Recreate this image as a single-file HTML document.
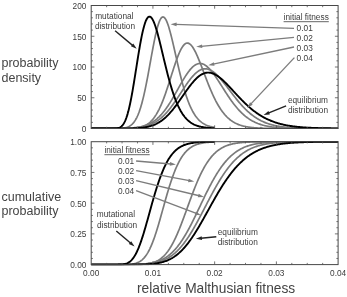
<!DOCTYPE html>
<html><head><meta charset="utf-8"><title>fitness distributions</title>
<style>
html,body{margin:0;padding:0;background:#fff;}
body{width:347px;height:297px;overflow:hidden;font-family:"Liberation Sans",sans-serif;}
svg{display:block;filter:grayscale(1);}
svg text{font-family:"Liberation Sans",sans-serif;}
</style></head><body>
<svg width="347" height="297" viewBox="0 0 347 297">
<rect x="0" y="0" width="347" height="297" fill="#fff"/>
<defs>
<clipPath id="c1"><rect x="90.7" y="4.9" width="247.90000000000003" height="124.2"/></clipPath>
<clipPath id="c2"><rect x="90.7" y="141.1" width="247.90000000000003" height="124.10000000000004"/></clipPath>
</defs>
<g fill="none" stroke-linejoin="round" stroke-linecap="butt" clip-path="url(#c1)">
<path d="M91.20,128.50 L91.82,128.50 L92.43,128.50 L93.05,128.50 L93.67,128.50 L94.29,128.50 L94.90,128.50 L95.52,128.50 L96.14,128.50 L96.76,128.50 L97.37,128.50 L97.99,128.50 L98.61,128.50 L99.22,128.50 L99.84,128.50 L100.46,128.50 L101.08,128.50 L101.69,128.50 L102.31,128.50 L102.93,128.50 L103.55,128.50 L104.16,128.50 L104.78,128.50 L105.40,128.50 L106.01,128.50 L106.63,128.50 L107.25,128.50 L107.87,128.50 L108.48,128.50 L109.10,128.50 L109.72,128.50 L110.33,128.50 L110.95,128.49 L111.57,128.49 L112.19,128.49 L112.80,128.49 L113.42,128.48 L114.04,128.48 L114.66,128.48 L115.27,128.47 L115.89,128.46 L116.51,128.45 L117.12,128.44 L117.74,128.43 L118.36,128.41 L118.98,128.39 L119.59,128.36 L120.21,128.33 L120.83,128.29 L121.45,128.25 L122.06,128.20 L122.68,128.13 L123.30,128.06 L123.91,127.97 L124.53,127.87 L125.15,127.75 L125.77,127.61 L126.38,127.45 L127.00,127.26 L127.62,127.04 L128.24,126.80 L128.85,126.51 L129.47,126.18 L130.09,125.81 L130.70,125.40 L131.32,124.92 L131.94,124.39 L132.56,123.79 L133.17,123.12 L133.79,122.38 L134.41,121.56 L135.02,120.64 L135.64,119.64 L136.26,118.53 L136.88,117.33 L137.49,116.01 L138.11,114.58 L138.73,113.03 L139.35,111.36 L139.96,109.56 L140.58,107.64 L141.20,105.58 L141.81,103.40 L142.43,101.09 L143.05,98.64 L143.67,96.08 L144.28,93.38 L144.90,90.58 L145.52,87.66 L146.14,84.64 L146.75,81.52 L147.37,78.32 L147.99,75.05 L148.60,71.72 L149.22,68.34 L149.84,64.93 L150.46,61.51 L151.07,58.09 L151.69,54.69 L152.31,51.33 L152.93,48.02 L153.54,44.79 L154.16,41.66 L154.78,38.64 L155.39,35.76 L156.01,33.02 L156.63,30.45 L157.25,28.07 L157.86,25.88 L158.48,23.91 L159.10,22.17 L159.71,20.66 L160.33,19.40 L160.95,18.39 L161.57,17.65 L162.18,17.16 L162.80,16.95 L163.42,17.00 L164.04,17.32 L164.65,17.88 L165.27,18.68 L165.89,19.72 L166.50,20.96 L167.12,22.40 L167.74,24.03 L168.36,25.83 L168.97,27.79 L169.59,29.89 L170.21,32.11 L170.83,34.45 L171.44,36.88 L172.06,39.39 L172.68,41.97 L173.29,44.60 L173.91,47.28 L174.53,49.99 L175.15,52.71 L175.76,55.44 L176.38,58.17 L177.00,60.89 L177.62,63.59 L178.23,66.26 L178.85,68.89 L179.47,71.49 L180.08,74.03 L180.70,76.52 L181.32,78.95 L181.94,81.33 L182.55,83.64 L183.17,85.88 L183.79,88.05 L184.40,90.15 L185.02,92.17 L185.64,94.13 L186.26,96.01 L186.87,97.81 L187.49,99.55 L188.11,101.21 L188.73,102.80 L189.34,104.31 L189.96,105.76 L190.58,107.14 L191.19,108.45 L191.81,109.69 L192.43,110.88 L193.05,112.00 L193.66,113.06 L194.28,114.06 L194.90,115.01 L195.52,115.91 L196.13,116.75 L196.75,117.55 L197.37,118.30 L197.98,119.00 L198.60,119.66 L199.22,120.29 L199.84,120.87 L200.45,121.41 L201.07,121.92 L201.69,122.40 L202.31,122.85 L202.92,123.27 L203.54,123.65 L204.16,124.02 L204.77,124.35 L205.39,124.67 L206.01,124.96 L206.63,125.23 L207.24,125.49 L207.86,125.72 L208.48,125.94 L209.09,126.14 L209.71,126.33 L210.33,126.50 L210.95,126.66 L211.56,126.81 L212.18,126.95 L212.80,127.07 L213.42,127.19 L214.03,127.30 L214.65,127.40" stroke="#7a7a7a" stroke-width="1.7"/>
<path d="M91.20,128.50 L91.82,128.50 L92.43,128.50 L93.05,128.50 L93.67,128.50 L94.29,128.50 L94.90,128.50 L95.52,128.50 L96.14,128.50 L96.76,128.50 L97.37,128.50 L97.99,128.50 L98.61,128.50 L99.22,128.50 L99.84,128.50 L100.46,128.50 L101.08,128.50 L101.69,128.50 L102.31,128.50 L102.93,128.50 L103.55,128.50 L104.16,128.50 L104.78,128.50 L105.40,128.50 L106.01,128.50 L106.63,128.50 L107.25,128.50 L107.87,128.50 L108.48,128.50 L109.10,128.50 L109.72,128.50 L110.33,128.50 L110.95,128.50 L111.57,128.50 L112.19,128.50 L112.80,128.50 L113.42,128.50 L114.04,128.50 L114.66,128.50 L115.27,128.49 L115.89,128.49 L116.51,128.49 L117.12,128.49 L117.74,128.49 L118.36,128.49 L118.98,128.49 L119.59,128.48 L120.21,128.48 L120.83,128.48 L121.45,128.47 L122.06,128.47 L122.68,128.47 L123.30,128.46 L123.91,128.45 L124.53,128.45 L125.15,128.44 L125.77,128.43 L126.38,128.42 L127.00,128.41 L127.62,128.39 L128.24,128.38 L128.85,128.36 L129.47,128.34 L130.09,128.31 L130.70,128.29 L131.32,128.26 L131.94,128.22 L132.56,128.19 L133.17,128.14 L133.79,128.10 L134.41,128.05 L135.02,127.99 L135.64,127.92 L136.26,127.85 L136.88,127.77 L137.49,127.68 L138.11,127.58 L138.73,127.47 L139.35,127.35 L139.96,127.21 L140.58,127.06 L141.20,126.90 L141.81,126.72 L142.43,126.53 L143.05,126.32 L143.67,126.08 L144.28,125.83 L144.90,125.55 L145.52,125.25 L146.14,124.92 L146.75,124.57 L147.37,124.19 L147.99,123.78 L148.60,123.33 L149.22,122.85 L149.84,122.34 L150.46,121.79 L151.07,121.19 L151.69,120.56 L152.31,119.89 L152.93,119.17 L153.54,118.41 L154.16,117.60 L154.78,116.74 L155.39,115.83 L156.01,114.87 L156.63,113.86 L157.25,112.80 L157.86,111.68 L158.48,110.51 L159.10,109.28 L159.71,108.00 L160.33,106.67 L160.95,105.29 L161.57,103.85 L162.18,102.35 L162.80,100.81 L163.42,99.22 L164.04,97.58 L164.65,95.89 L165.27,94.17 L165.89,92.40 L166.50,90.59 L167.12,88.76 L167.74,86.89 L168.36,84.99 L168.97,83.08 L169.59,81.14 L170.21,79.20 L170.83,77.25 L171.44,75.29 L172.06,73.34 L172.68,71.40 L173.29,69.48 L173.91,67.58 L174.53,65.70 L175.15,63.86 L175.76,62.06 L176.38,60.31 L177.00,58.61 L177.62,56.97 L178.23,55.40 L178.85,53.90 L179.47,52.47 L180.08,51.13 L180.70,49.88 L181.32,48.72 L181.94,47.65 L182.55,46.69 L183.17,45.84 L183.79,45.10 L184.40,44.46 L185.02,43.95 L185.64,43.55 L186.26,43.27 L186.87,43.12 L187.49,43.08 L188.11,43.16 L188.73,43.37 L189.34,43.68 L189.96,44.11 L190.58,44.64 L191.19,45.28 L191.81,46.01 L192.43,46.84 L193.05,47.75 L193.66,48.75 L194.28,49.83 L194.90,50.98 L195.52,52.19 L196.13,53.47 L196.75,54.80 L197.37,56.18 L197.98,57.61 L198.60,59.09 L199.22,60.59 L199.84,62.13 L200.45,63.70 L201.07,65.28 L201.69,66.89 L202.31,68.50 L202.92,70.13 L203.54,71.76 L204.16,73.39 L204.77,75.02 L205.39,76.64 L206.01,78.25 L206.63,79.86 L207.24,81.44 L207.86,83.02 L208.48,84.57 L209.09,86.10 L209.71,87.60 L210.33,89.08 L210.95,90.54 L211.56,91.96 L212.18,93.36 L212.80,94.73 L213.42,96.06 L214.03,97.36 L214.65,98.63 L215.27,99.86 L215.88,101.07 L216.50,102.23 L217.12,103.37 L217.74,104.46 L218.35,105.53 L218.97,106.56 L219.59,107.55 L220.21,108.51 L220.82,109.44 L221.44,110.33 L222.06,111.20 L222.67,112.02 L223.29,112.82 L223.91,113.59 L224.53,114.33 L225.14,115.03 L225.76,115.71 L226.38,116.36 L227.00,116.99 L227.61,117.58 L228.23,118.15 L228.85,118.70 L229.46,119.22 L230.08,119.71 L230.70,120.19 L231.32,120.64 L231.93,121.07 L232.55,121.48 L233.17,121.87 L233.78,122.24 L234.40,122.59 L235.02,122.93 L235.64,123.25 L236.25,123.55 L236.87,123.83 L237.49,124.11 L238.11,124.36 L238.72,124.61 L239.34,124.84 L239.96,125.06 L240.57,125.26 L241.19,125.46 L241.81,125.64 L242.43,125.82 L243.04,125.98 L243.66,126.14 L244.28,126.28 L244.90,126.42 L245.51,126.55 L246.13,126.68 L246.75,126.79 L247.36,126.90 L247.98,127.00 L248.60,127.10 L249.22,127.19 L249.83,127.27 L250.45,127.35 L251.07,127.43 L251.69,127.50 L252.30,127.56 L252.92,127.63 L253.54,127.68 L254.15,127.74 L254.77,127.79 L255.39,127.84 L256.01,127.88 L256.62,127.92 L257.24,127.96 L257.86,128.00 L258.47,128.03 L259.09,128.07 L259.71,128.10 L260.33,128.12 L260.94,128.15 L261.56,128.17 L262.18,128.20 L262.80,128.22 L263.41,128.24 L264.03,128.26 L264.65,128.27 L265.26,128.29 L265.88,128.31 L266.50,128.32 L267.12,128.33 L267.73,128.34 L268.35,128.36 L268.97,128.37 L269.59,128.38 L270.20,128.38 L270.82,128.39 L271.44,128.40 L272.05,128.41 L272.67,128.42 L273.29,128.42 L273.91,128.43 L274.52,128.43 L275.14,128.44 L275.76,128.44 L276.38,128.45 L276.99,128.45 L277.61,128.45 L278.23,128.46 L278.84,128.46 L279.46,128.46 L280.08,128.47 L280.70,128.47 L281.31,128.47 L281.93,128.47 L282.55,128.48 L283.16,128.48 L283.78,128.48 L284.40,128.48 L285.02,128.48 L285.63,128.48 L286.25,128.49 L286.87,128.49 L287.49,128.49 L288.10,128.49 L288.72,128.49 L289.34,128.49 L289.95,128.49 L290.57,128.49 L291.19,128.49 L291.81,128.49 L292.42,128.49 L293.04,128.49 L293.66,128.49 L294.28,128.49 L294.89,128.50 L295.51,128.50 L296.13,128.50 L296.74,128.50 L297.36,128.50 L297.98,128.50 L298.60,128.50 L299.21,128.50 L299.83,128.50 L300.45,128.50 L301.07,128.50 L301.68,128.50 L302.30,128.50 L302.92,128.50 L303.53,128.50 L304.15,128.50 L304.77,128.50 L305.39,128.50 L306.00,128.50 L306.62,128.50 L307.24,128.50 L307.85,128.50 L308.47,128.50 L309.09,128.50 L309.71,128.50 L310.32,128.50 L310.94,128.50 L311.56,128.50 L312.18,128.50 L312.79,128.50 L313.41,128.50 L314.03,128.50 L314.64,128.50 L315.26,128.50 L315.88,128.50 L316.50,128.50 L317.11,128.50 L317.73,128.50 L318.35,128.50 L318.97,128.50 L319.58,128.50 L320.20,128.50 L320.82,128.50 L321.43,128.50 L322.05,128.50 L322.67,128.50 L323.29,128.50 L323.90,128.50 L324.52,128.50 L325.14,128.50 L325.76,128.50 L326.37,128.50 L326.99,128.50 L327.61,128.50 L328.22,128.50 L328.84,128.50 L329.46,128.50 L330.08,128.50 L330.69,128.50 L331.31,128.50 L331.93,128.50 L332.54,128.50 L333.16,128.50 L333.78,128.50 L334.40,128.50 L335.01,128.50 L335.63,128.50 L336.25,128.50 L336.87,128.50 L337.48,128.50 L338.10,128.50" stroke="#7a7a7a" stroke-width="1.7"/>
<path d="M91.20,128.50 L91.82,128.50 L92.43,128.50 L93.05,128.50 L93.67,128.50 L94.29,128.50 L94.90,128.50 L95.52,128.50 L96.14,128.50 L96.76,128.50 L97.37,128.50 L97.99,128.50 L98.61,128.50 L99.22,128.50 L99.84,128.50 L100.46,128.50 L101.08,128.50 L101.69,128.50 L102.31,128.50 L102.93,128.50 L103.55,128.50 L104.16,128.49 L104.78,128.49 L105.40,128.49 L106.01,128.49 L106.63,128.49 L107.25,128.49 L107.87,128.49 L108.48,128.49 L109.10,128.49 L109.72,128.48 L110.33,128.48 L110.95,128.48 L111.57,128.48 L112.19,128.48 L112.80,128.47 L113.42,128.47 L114.04,128.47 L114.66,128.46 L115.27,128.46 L115.89,128.45 L116.51,128.45 L117.12,128.44 L117.74,128.44 L118.36,128.43 L118.98,128.42 L119.59,128.41 L120.21,128.41 L120.83,128.39 L121.45,128.38 L122.06,128.37 L122.68,128.36 L123.30,128.34 L123.91,128.33 L124.53,128.31 L125.15,128.29 L125.77,128.27 L126.38,128.25 L127.00,128.22 L127.62,128.20 L128.24,128.17 L128.85,128.14 L129.47,128.10 L130.09,128.07 L130.70,128.03 L131.32,127.98 L131.94,127.94 L132.56,127.89 L133.17,127.83 L133.79,127.77 L134.41,127.71 L135.02,127.64 L135.64,127.57 L136.26,127.49 L136.88,127.41 L137.49,127.32 L138.11,127.22 L138.73,127.12 L139.35,127.01 L139.96,126.89 L140.58,126.76 L141.20,126.63 L141.81,126.48 L142.43,126.33 L143.05,126.17 L143.67,125.99 L144.28,125.81 L144.90,125.61 L145.52,125.40 L146.14,125.19 L146.75,124.95 L147.37,124.71 L147.99,124.45 L148.60,124.17 L149.22,123.88 L149.84,123.58 L150.46,123.26 L151.07,122.92 L151.69,122.57 L152.31,122.20 L152.93,121.81 L153.54,121.40 L154.16,120.97 L154.78,120.52 L155.39,120.06 L156.01,119.57 L156.63,119.06 L157.25,118.53 L157.86,117.98 L158.48,117.41 L159.10,116.82 L159.71,116.20 L160.33,115.56 L160.95,114.90 L161.57,114.22 L162.18,113.51 L162.80,112.79 L163.42,112.03 L164.04,111.26 L164.65,110.46 L165.27,109.65 L165.89,108.81 L166.50,107.94 L167.12,107.06 L167.74,106.16 L168.36,105.24 L168.97,104.30 L169.59,103.34 L170.21,102.36 L170.83,101.36 L171.44,100.35 L172.06,99.33 L172.68,98.29 L173.29,97.24 L173.91,96.18 L174.53,95.10 L175.15,94.02 L175.76,92.93 L176.38,91.84 L177.00,90.74 L177.62,89.64 L178.23,88.54 L178.85,87.44 L179.47,86.34 L180.08,85.25 L180.70,84.16 L181.32,83.08 L181.94,82.01 L182.55,80.95 L183.17,79.91 L183.79,78.88 L184.40,77.87 L185.02,76.88 L185.64,75.91 L186.26,74.97 L186.87,74.05 L187.49,73.16 L188.11,72.29 L188.73,71.46 L189.34,70.66 L189.96,69.90 L190.58,69.17 L191.19,68.48 L191.81,67.83 L192.43,67.22 L193.05,66.66 L193.66,66.13 L194.28,65.65 L194.90,65.22 L195.52,64.83 L196.13,64.49 L196.75,64.20 L197.37,63.96 L197.98,63.77 L198.60,63.63 L199.22,63.54 L199.84,63.50 L200.45,63.51 L201.07,63.57 L201.69,63.68 L202.31,63.84 L202.92,64.04 L203.54,64.30 L204.16,64.60 L204.77,64.94 L205.39,65.33 L206.01,65.76 L206.63,66.23 L207.24,66.74 L207.86,67.29 L208.48,67.87 L209.09,68.49 L209.71,69.15 L210.33,69.83 L210.95,70.55 L211.56,71.29 L212.18,72.06 L212.80,72.85 L213.42,73.67 L214.03,74.51 L214.65,75.37 L215.27,76.25 L215.88,77.14 L216.50,78.05 L217.12,78.97 L217.74,79.90 L218.35,80.85 L218.97,81.80 L219.59,82.76 L220.21,83.72 L220.82,84.69 L221.44,85.66 L222.06,86.64 L222.67,87.61 L223.29,88.58 L223.91,89.55 L224.53,90.52 L225.14,91.48 L225.76,92.43 L226.38,93.38 L227.00,94.32 L227.61,95.26 L228.23,96.18 L228.85,97.09 L229.46,98.00 L230.08,98.89 L230.70,99.77 L231.32,100.63 L231.93,101.49 L232.55,102.33 L233.17,103.15 L233.78,103.96 L234.40,104.76 L235.02,105.54 L235.64,106.30 L236.25,107.05 L236.87,107.78 L237.49,108.50 L238.11,109.20 L238.72,109.88 L239.34,110.55 L239.96,111.20 L240.57,111.83 L241.19,112.45 L241.81,113.05 L242.43,113.63 L243.04,114.20 L243.66,114.75 L244.28,115.29 L244.90,115.81 L245.51,116.32 L246.13,116.80 L246.75,117.28 L247.36,117.74 L247.98,118.18 L248.60,118.61 L249.22,119.02 L249.83,119.43 L250.45,119.81 L251.07,120.19 L251.69,120.55 L252.30,120.90 L252.92,121.23 L253.54,121.55 L254.15,121.86 L254.77,122.16 L255.39,122.45 L256.01,122.73 L256.62,122.99 L257.24,123.25 L257.86,123.50 L258.47,123.73 L259.09,123.96 L259.71,124.17 L260.33,124.38 L260.94,124.58 L261.56,124.77 L262.18,124.95 L262.80,125.13 L263.41,125.29 L264.03,125.45 L264.65,125.61 L265.26,125.75 L265.88,125.89 L266.50,126.03 L267.12,126.15 L267.73,126.27 L268.35,126.39 L268.97,126.50 L269.59,126.60 L270.20,126.70 L270.82,126.80 L271.44,126.89 L272.05,126.98 L272.67,127.06 L273.29,127.14 L273.91,127.21 L274.52,127.28 L275.14,127.35 L275.76,127.41 L276.38,127.47 L276.99,127.53 L277.61,127.58 L278.23,127.63 L278.84,127.68 L279.46,127.73 L280.08,127.77 L280.70,127.81 L281.31,127.85 L281.93,127.89 L282.55,127.93 L283.16,127.96 L283.78,127.99 L284.40,128.02 L285.02,128.05 L285.63,128.08 L286.25,128.10 L286.87,128.12 L287.49,128.15 L288.10,128.17 L288.72,128.19 L289.34,128.21 L289.95,128.23 L290.57,128.24 L291.19,128.26 L291.81,128.27 L292.42,128.29 L293.04,128.30 L293.66,128.31 L294.28,128.32 L294.89,128.33 L295.51,128.35 L296.13,128.35 L296.74,128.36 L297.36,128.37 L297.98,128.38 L298.60,128.39 L299.21,128.40 L299.83,128.40 L300.45,128.41 L301.07,128.41 L301.68,128.42 L302.30,128.43 L302.92,128.43 L303.53,128.43 L304.15,128.44 L304.77,128.44 L305.39,128.45 L306.00,128.45 L306.62,128.45 L307.24,128.46 L307.85,128.46 L308.47,128.46 L309.09,128.46 L309.71,128.47 L310.32,128.47 L310.94,128.47 L311.56,128.47 L312.18,128.48 L312.79,128.48 L313.41,128.48 L314.03,128.48 L314.64,128.48 L315.26,128.48 L315.88,128.48 L316.50,128.48 L317.11,128.49 L317.73,128.49 L318.35,128.49 L318.97,128.49 L319.58,128.49 L320.20,128.49 L320.82,128.49 L321.43,128.49 L322.05,128.49 L322.67,128.49 L323.29,128.49 L323.90,128.49 L324.52,128.49 L325.14,128.49 L325.76,128.49 L326.37,128.50 L326.99,128.50 L327.61,128.50 L328.22,128.50 L328.84,128.50 L329.46,128.50 L330.08,128.50 L330.69,128.50 L331.31,128.50 L331.93,128.50 L332.54,128.50 L333.16,128.50 L333.78,128.50 L334.40,128.50 L335.01,128.50 L335.63,128.50 L336.25,128.50 L336.87,128.50 L337.48,128.50 L338.10,128.50" stroke="#7a7a7a" stroke-width="1.7"/>
<path d="M91.20,128.50 L91.82,128.50 L92.43,128.50 L93.05,128.50 L93.67,128.50 L94.29,128.50 L94.90,128.50 L95.52,128.50 L96.14,128.50 L96.76,128.50 L97.37,128.50 L97.99,128.50 L98.61,128.50 L99.22,128.50 L99.84,128.50 L100.46,128.50 L101.08,128.50 L101.69,128.50 L102.31,128.50 L102.93,128.50 L103.55,128.50 L104.16,128.50 L104.78,128.50 L105.40,128.50 L106.01,128.49 L106.63,128.49 L107.25,128.49 L107.87,128.49 L108.48,128.49 L109.10,128.49 L109.72,128.49 L110.33,128.49 L110.95,128.49 L111.57,128.49 L112.19,128.48 L112.80,128.48 L113.42,128.48 L114.04,128.48 L114.66,128.47 L115.27,128.47 L115.89,128.47 L116.51,128.46 L117.12,128.46 L117.74,128.45 L118.36,128.45 L118.98,128.44 L119.59,128.44 L120.21,128.43 L120.83,128.42 L121.45,128.42 L122.06,128.41 L122.68,128.40 L123.30,128.39 L123.91,128.37 L124.53,128.36 L125.15,128.35 L125.77,128.33 L126.38,128.31 L127.00,128.30 L127.62,128.28 L128.24,128.25 L128.85,128.23 L129.47,128.20 L130.09,128.18 L130.70,128.15 L131.32,128.11 L131.94,128.08 L132.56,128.04 L133.17,128.00 L133.79,127.95 L134.41,127.91 L135.02,127.85 L135.64,127.80 L136.26,127.74 L136.88,127.68 L137.49,127.61 L138.11,127.53 L138.73,127.45 L139.35,127.37 L139.96,127.28 L140.58,127.18 L141.20,127.08 L141.81,126.97 L142.43,126.85 L143.05,126.73 L143.67,126.59 L144.28,126.45 L144.90,126.30 L145.52,126.15 L146.14,125.98 L146.75,125.80 L147.37,125.61 L147.99,125.41 L148.60,125.20 L149.22,124.98 L149.84,124.75 L150.46,124.51 L151.07,124.25 L151.69,123.98 L152.31,123.69 L152.93,123.39 L153.54,123.08 L154.16,122.75 L154.78,122.41 L155.39,122.05 L156.01,121.68 L156.63,121.29 L157.25,120.88 L157.86,120.46 L158.48,120.02 L159.10,119.56 L159.71,119.08 L160.33,118.59 L160.95,118.08 L161.57,117.55 L162.18,117.00 L162.80,116.43 L163.42,115.85 L164.04,115.24 L164.65,114.62 L165.27,113.98 L165.89,113.32 L166.50,112.65 L167.12,111.95 L167.74,111.24 L168.36,110.51 L168.97,109.76 L169.59,109.00 L170.21,108.22 L170.83,107.42 L171.44,106.61 L172.06,105.79 L172.68,104.95 L173.29,104.09 L173.91,103.23 L174.53,102.35 L175.15,101.46 L175.76,100.56 L176.38,99.65 L177.00,98.73 L177.62,97.81 L178.23,96.87 L178.85,95.94 L179.47,95.00 L180.08,94.05 L180.70,93.11 L181.32,92.16 L181.94,91.22 L182.55,90.27 L183.17,89.34 L183.79,88.40 L184.40,87.47 L185.02,86.55 L185.64,85.64 L186.26,84.74 L186.87,83.85 L187.49,82.97 L188.11,82.11 L188.73,81.27 L189.34,80.44 L189.96,79.63 L190.58,78.84 L191.19,78.07 L191.81,77.32 L192.43,76.60 L193.05,75.91 L193.66,75.24 L194.28,74.60 L194.90,73.98 L195.52,73.40 L196.13,72.85 L196.75,72.33 L197.37,71.84 L197.98,71.39 L198.60,70.97 L199.22,70.58 L199.84,70.23 L200.45,69.92 L201.07,69.65 L201.69,69.41 L202.31,69.21 L202.92,69.05 L203.54,68.92 L204.16,68.84 L204.77,68.79 L205.39,68.79 L206.01,68.82 L206.63,68.88 L207.24,68.99 L207.86,69.13 L208.48,69.31 L209.09,69.53 L209.71,69.78 L210.33,70.06 L210.95,70.38 L211.56,70.73 L212.18,71.11 L212.80,71.52 L213.42,71.96 L214.03,72.43 L214.65,72.93 L215.27,73.45 L215.88,74.00 L216.50,74.57 L217.12,75.16 L217.74,75.78 L218.35,76.42 L218.97,77.07 L219.59,77.75 L220.21,78.44 L220.82,79.14 L221.44,79.87 L222.06,80.60 L222.67,81.35 L223.29,82.11 L223.91,82.88 L224.53,83.65 L225.14,84.44 L225.76,85.23 L226.38,86.03 L227.00,86.84 L227.61,87.64 L228.23,88.45 L228.85,89.26 L229.46,90.08 L230.08,90.89 L230.70,91.70 L231.32,92.51 L231.93,93.32 L232.55,94.12 L233.17,94.93 L233.78,95.72 L234.40,96.51 L235.02,97.30 L235.64,98.08 L236.25,98.85 L236.87,99.61 L237.49,100.36 L238.11,101.11 L238.72,101.85 L239.34,102.58 L239.96,103.29 L240.57,104.00 L241.19,104.70 L241.81,105.38 L242.43,106.06 L243.04,106.72 L243.66,107.37 L244.28,108.01 L244.90,108.64 L245.51,109.26 L246.13,109.86 L246.75,110.45 L247.36,111.03 L247.98,111.59 L248.60,112.15 L249.22,112.69 L249.83,113.22 L250.45,113.73 L251.07,114.24 L251.69,114.73 L252.30,115.20 L252.92,115.67 L253.54,116.12 L254.15,116.57 L254.77,117.00 L255.39,117.41 L256.01,117.82 L256.62,118.21 L257.24,118.60 L257.86,118.97 L258.47,119.33 L259.09,119.68 L259.71,120.02 L260.33,120.35 L260.94,120.67 L261.56,120.97 L262.18,121.27 L262.80,121.56 L263.41,121.84 L264.03,122.11 L264.65,122.37 L265.26,122.62 L265.88,122.86 L266.50,123.10 L267.12,123.32 L267.73,123.54 L268.35,123.75 L268.97,123.96 L269.59,124.15 L270.20,124.34 L270.82,124.52 L271.44,124.69 L272.05,124.86 L272.67,125.02 L273.29,125.18 L273.91,125.33 L274.52,125.47 L275.14,125.61 L275.76,125.74 L276.38,125.86 L276.99,125.98 L277.61,126.10 L278.23,126.21 L278.84,126.32 L279.46,126.42 L280.08,126.52 L280.70,126.61 L281.31,126.70 L281.93,126.79 L282.55,126.87 L283.16,126.95 L283.78,127.03 L284.40,127.10 L285.02,127.17 L285.63,127.23 L286.25,127.30 L286.87,127.36 L287.49,127.41 L288.10,127.47 L288.72,127.52 L289.34,127.57 L289.95,127.62 L290.57,127.66 L291.19,127.70 L291.81,127.74 L292.42,127.78 L293.04,127.82 L293.66,127.86 L294.28,127.89 L294.89,127.92 L295.51,127.95 L296.13,127.98 L296.74,128.01 L297.36,128.03 L297.98,128.06 L298.60,128.08 L299.21,128.11 L299.83,128.13 L300.45,128.15 L301.07,128.17 L301.68,128.18 L302.30,128.20 L302.92,128.22 L303.53,128.23 L304.15,128.25 L304.77,128.26 L305.39,128.28 L306.00,128.29 L306.62,128.30 L307.24,128.31 L307.85,128.32 L308.47,128.33 L309.09,128.34 L309.71,128.35 L310.32,128.36 L310.94,128.37 L311.56,128.37 L312.18,128.38 L312.79,128.39 L313.41,128.40 L314.03,128.40 L314.64,128.41 L315.26,128.41 L315.88,128.42 L316.50,128.42 L317.11,128.43 L317.73,128.43 L318.35,128.44 L318.97,128.44 L319.58,128.44 L320.20,128.45 L320.82,128.45 L321.43,128.45 L322.05,128.46 L322.67,128.46 L323.29,128.46 L323.90,128.46 L324.52,128.47 L325.14,128.47 L325.76,128.47 L326.37,128.47 L326.99,128.47 L327.61,128.47 L328.22,128.48 L328.84,128.48 L329.46,128.48 L330.08,128.48 L330.69,128.48 L331.31,128.48 L331.93,128.48 L332.54,128.48 L333.16,128.49 L333.78,128.49 L334.40,128.49 L335.01,128.49 L335.63,128.49 L336.25,128.49 L336.87,128.49 L337.48,128.49 L338.10,128.49" stroke="#7a7a7a" stroke-width="1.7"/>
<path d="M91.20,128.50 L91.82,128.50 L92.43,128.50 L93.05,128.50 L93.67,128.50 L94.29,128.50 L94.90,128.50 L95.52,128.50 L96.14,128.50 L96.76,128.50 L97.37,128.50 L97.99,128.50 L98.61,128.50 L99.22,128.50 L99.84,128.50 L100.46,128.50 L101.08,128.50 L101.69,128.50 L102.31,128.50 L102.93,128.50 L103.55,128.50 L104.16,128.50 L104.78,128.50 L105.40,128.50 L106.01,128.50 L106.63,128.50 L107.25,128.50 L107.87,128.50 L108.48,128.50 L109.10,128.50 L109.72,128.50 L110.33,128.50 L110.95,128.50 L111.57,128.50 L112.19,128.50 L112.80,128.49 L113.42,128.49 L114.04,128.48 L114.66,128.46 L115.27,128.43 L115.89,128.39 L116.51,128.34 L117.12,128.26 L117.74,128.15 L118.36,128.01 L118.98,127.82 L119.59,127.57 L120.21,127.26 L120.83,126.86 L121.45,126.38 L122.06,125.80 L122.68,125.09 L123.30,124.26 L123.91,123.28 L124.53,122.15 L125.15,120.86 L125.77,119.38 L126.38,117.73 L127.00,115.89 L127.62,113.85 L128.24,111.61 L128.85,109.18 L129.47,106.56 L130.09,103.74 L130.70,100.75 L131.32,97.59 L131.94,94.27 L132.56,90.80 L133.17,87.21 L133.79,83.51 L134.41,79.72 L135.02,75.87 L135.64,71.97 L136.26,68.05 L136.88,64.14 L137.49,60.25 L138.11,56.41 L138.73,52.64 L139.35,48.97 L139.96,45.42 L140.58,42.01 L141.20,38.75 L141.81,35.68 L142.43,32.79 L143.05,30.12 L143.67,27.66 L144.28,25.43 L144.90,23.44 L145.52,21.70 L146.14,20.22 L146.75,18.98 L147.37,18.00 L147.99,17.28 L148.60,16.81 L149.22,16.59 L149.84,16.61 L150.46,16.87 L151.07,17.36 L151.69,18.07 L152.31,18.99 L152.93,20.10 L153.54,21.40 L154.16,22.87 L154.78,24.50 L155.39,26.28 L156.01,28.19 L156.63,30.23 L157.25,32.37 L157.86,34.61 L158.48,36.93 L159.10,39.32 L159.71,41.78 L160.33,44.28 L160.95,46.82 L161.57,49.38 L162.18,51.96 L162.80,54.55 L163.42,57.15 L164.04,59.73 L164.65,62.29 L165.27,64.83 L165.89,67.35 L166.50,69.82 L167.12,72.26 L167.74,74.65 L168.36,77.00 L168.97,79.29 L169.59,81.52 L170.21,83.70 L170.83,85.81 L171.44,87.86 L172.06,89.85 L172.68,91.78 L173.29,93.64 L173.91,95.43 L174.53,97.16 L175.15,98.82 L175.76,100.41 L176.38,101.95 L177.00,103.41 L177.62,104.82 L178.23,106.16 L178.85,107.44 L179.47,108.66 L180.08,109.83 L180.70,110.94 L181.32,111.99 L181.94,112.99 L182.55,113.94 L183.17,114.84 L183.79,115.70 L184.40,116.50 L185.02,117.27 L185.64,117.99 L186.26,118.67 L186.87,119.31 L187.49,119.92 L188.11,120.49 L188.73,121.02 L189.34,121.53 L189.96,122.00 L190.58,122.45 L191.19,122.86 L191.81,123.25 L192.43,123.62 L193.05,123.96 L193.66,124.29 L194.28,124.59 L194.90,124.87 L195.52,125.13 L196.13,125.37 L196.75,125.60 L197.37,125.82 L197.98,126.01 L198.60,126.20 L199.22,126.37 L199.84,126.53 L200.45,126.68 L201.07,126.82 L201.69,126.95 L202.31,127.06 L202.92,127.18 L203.54,127.28 L204.16,127.37 L204.77,127.46 L205.39,127.54 L206.01,127.62 L206.63,127.69 L207.24,127.75 L207.86,127.81 L208.48,127.87 L209.09,127.92 L209.71,127.97 L210.33,128.01 L210.95,128.05 L211.56,128.09 L212.18,128.12 L212.80,128.15 L213.42,128.18 L214.03,128.21 L214.65,128.23" stroke="#000" stroke-width="1.9"/>
<path d="M91.20,128.50 L91.82,128.50 L92.43,128.50 L93.05,128.50 L93.67,128.50 L94.29,128.50 L94.90,128.50 L95.52,128.50 L96.14,128.50 L96.76,128.50 L97.37,128.50 L97.99,128.50 L98.61,128.50 L99.22,128.50 L99.84,128.50 L100.46,128.50 L101.08,128.50 L101.69,128.50 L102.31,128.50 L102.93,128.50 L103.55,128.50 L104.16,128.50 L104.78,128.50 L105.40,128.50 L106.01,128.50 L106.63,128.50 L107.25,128.50 L107.87,128.50 L108.48,128.50 L109.10,128.50 L109.72,128.50 L110.33,128.50 L110.95,128.50 L111.57,128.50 L112.19,128.50 L112.80,128.50 L113.42,128.50 L114.04,128.50 L114.66,128.50 L115.27,128.50 L115.89,128.50 L116.51,128.49 L117.12,128.49 L117.74,128.49 L118.36,128.49 L118.98,128.49 L119.59,128.49 L120.21,128.49 L120.83,128.49 L121.45,128.48 L122.06,128.48 L122.68,128.48 L123.30,128.47 L123.91,128.47 L124.53,128.47 L125.15,128.46 L125.77,128.46 L126.38,128.45 L127.00,128.44 L127.62,128.44 L128.24,128.43 L128.85,128.42 L129.47,128.41 L130.09,128.40 L130.70,128.38 L131.32,128.37 L131.94,128.35 L132.56,128.34 L133.17,128.32 L133.79,128.30 L134.41,128.27 L135.02,128.25 L135.64,128.22 L136.26,128.19 L136.88,128.16 L137.49,128.12 L138.11,128.08 L138.73,128.04 L139.35,127.99 L139.96,127.94 L140.58,127.88 L141.20,127.82 L141.81,127.76 L142.43,127.68 L143.05,127.61 L143.67,127.52 L144.28,127.44 L144.90,127.34 L145.52,127.24 L146.14,127.13 L146.75,127.01 L147.37,126.88 L147.99,126.75 L148.60,126.60 L149.22,126.45 L149.84,126.28 L150.46,126.11 L151.07,125.92 L151.69,125.72 L152.31,125.51 L152.93,125.29 L153.54,125.06 L154.16,124.81 L154.78,124.55 L155.39,124.28 L156.01,123.99 L156.63,123.68 L157.25,123.36 L157.86,123.03 L158.48,122.68 L159.10,122.31 L159.71,121.93 L160.33,121.53 L160.95,121.11 L161.57,120.67 L162.18,120.22 L162.80,119.75 L163.42,119.26 L164.04,118.75 L164.65,118.23 L165.27,117.68 L165.89,117.12 L166.50,116.54 L167.12,115.94 L167.74,115.33 L168.36,114.69 L168.97,114.04 L169.59,113.37 L170.21,112.68 L170.83,111.98 L171.44,111.26 L172.06,110.53 L172.68,109.78 L173.29,109.01 L173.91,108.23 L174.53,107.44 L175.15,106.63 L175.76,105.81 L176.38,104.98 L177.00,104.14 L177.62,103.29 L178.23,102.43 L178.85,101.56 L179.47,100.69 L180.08,99.80 L180.70,98.92 L181.32,98.03 L181.94,97.14 L182.55,96.25 L183.17,95.35 L183.79,94.46 L184.40,93.57 L185.02,92.68 L185.64,91.80 L186.26,90.93 L186.87,90.06 L187.49,89.20 L188.11,88.35 L188.73,87.51 L189.34,86.68 L189.96,85.86 L190.58,85.06 L191.19,84.28 L191.81,83.51 L192.43,82.77 L193.05,82.04 L193.66,81.33 L194.28,80.64 L194.90,79.98 L195.52,79.33 L196.13,78.72 L196.75,78.13 L197.37,77.56 L197.98,77.02 L198.60,76.52 L199.22,76.03 L199.84,75.58 L200.45,75.16 L201.07,74.77 L201.69,74.41 L202.31,74.08 L202.92,73.79 L203.54,73.52 L204.16,73.29 L204.77,73.10 L205.39,72.93 L206.01,72.80 L206.63,72.70 L207.24,72.63 L207.86,72.60 L208.48,72.60 L209.09,72.63 L209.71,72.70 L210.33,72.79 L210.95,72.92 L211.56,73.08 L212.18,73.26 L212.80,73.48 L213.42,73.72 L214.03,73.99 L214.65,74.28 L215.27,74.60 L215.88,74.95 L216.50,75.31 L217.12,75.70 L217.74,76.12 L218.35,76.55 L218.97,77.00 L219.59,77.47 L220.21,77.96 L220.82,78.47 L221.44,78.99 L222.06,79.53 L222.67,80.08 L223.29,80.65 L223.91,81.23 L224.53,81.82 L225.14,82.42 L225.76,83.03 L226.38,83.65 L227.00,84.28 L227.61,84.91 L228.23,85.56 L228.85,86.21 L229.46,86.86 L230.08,87.52 L230.70,88.18 L231.32,88.85 L231.93,89.51 L232.55,90.18 L233.17,90.85 L233.78,91.52 L234.40,92.20 L235.02,92.87 L235.64,93.53 L236.25,94.20 L236.87,94.87 L237.49,95.53 L238.11,96.19 L238.72,96.84 L239.34,97.49 L239.96,98.14 L240.57,98.78 L241.19,99.42 L241.81,100.05 L242.43,100.67 L243.04,101.29 L243.66,101.91 L244.28,102.51 L244.90,103.11 L245.51,103.70 L246.13,104.28 L246.75,104.86 L247.36,105.43 L247.98,105.99 L248.60,106.54 L249.22,107.09 L249.83,107.62 L250.45,108.15 L251.07,108.67 L251.69,109.18 L252.30,109.68 L252.92,110.17 L253.54,110.66 L254.15,111.13 L254.77,111.60 L255.39,112.05 L256.01,112.50 L256.62,112.94 L257.24,113.37 L257.86,113.80 L258.47,114.21 L259.09,114.61 L259.71,115.01 L260.33,115.40 L260.94,115.78 L261.56,116.15 L262.18,116.51 L262.80,116.86 L263.41,117.21 L264.03,117.54 L264.65,117.87 L265.26,118.20 L265.88,118.51 L266.50,118.81 L267.12,119.11 L267.73,119.40 L268.35,119.69 L268.97,119.96 L269.59,120.23 L270.20,120.49 L270.82,120.75 L271.44,121.00 L272.05,121.24 L272.67,121.47 L273.29,121.70 L273.91,121.92 L274.52,122.14 L275.14,122.35 L275.76,122.55 L276.38,122.75 L276.99,122.94 L277.61,123.13 L278.23,123.31 L278.84,123.49 L279.46,123.66 L280.08,123.82 L280.70,123.98 L281.31,124.14 L281.93,124.29 L282.55,124.44 L283.16,124.58 L283.78,124.72 L284.40,124.85 L285.02,124.98 L285.63,125.10 L286.25,125.23 L286.87,125.34 L287.49,125.46 L288.10,125.57 L288.72,125.67 L289.34,125.77 L289.95,125.87 L290.57,125.97 L291.19,126.06 L291.81,126.15 L292.42,126.24 L293.04,126.32 L293.66,126.40 L294.28,126.48 L294.89,126.56 L295.51,126.63 L296.13,126.70 L296.74,126.77 L297.36,126.83 L297.98,126.90 L298.60,126.96 L299.21,127.02 L299.83,127.07 L300.45,127.13 L301.07,127.18 L301.68,127.23 L302.30,127.28 L302.92,127.33 L303.53,127.38 L304.15,127.42 L304.77,127.46 L305.39,127.50 L306.00,127.54 L306.62,127.58 L307.24,127.62 L307.85,127.65 L308.47,127.69 L309.09,127.72 L309.71,127.75 L310.32,127.78 L310.94,127.81 L311.56,127.84 L312.18,127.86 L312.79,127.89 L313.41,127.91 L314.03,127.94 L314.64,127.96 L315.26,127.98 L315.88,128.00 L316.50,128.03 L317.11,128.04 L317.73,128.06 L318.35,128.08 L318.97,128.10 L319.58,128.12 L320.20,128.13 L320.82,128.15 L321.43,128.16 L322.05,128.18 L322.67,128.19 L323.29,128.20 L323.90,128.22 L324.52,128.23 L325.14,128.24 L325.76,128.25 L326.37,128.26 L326.99,128.27 L327.61,128.28 L328.22,128.29 L328.84,128.30 L329.46,128.31 L330.08,128.32 L330.69,128.32 L331.31,128.33 L331.93,128.34 L332.54,128.35 L333.16,128.35 L333.78,128.36 L334.40,128.37 L335.01,128.37 L335.63,128.38 L336.25,128.38 L336.87,128.39 L337.48,128.39 L338.10,128.40" stroke="#000" stroke-width="1.9"/>
</g>
<g fill="none" stroke-linejoin="round" stroke-linecap="butt" clip-path="url(#c2)">
<path d="M91.20,264.60 L91.82,264.60 L92.43,264.60 L93.05,264.60 L93.67,264.60 L94.29,264.60 L94.90,264.60 L95.52,264.60 L96.14,264.60 L96.76,264.60 L97.37,264.60 L97.99,264.60 L98.61,264.60 L99.22,264.60 L99.84,264.60 L100.46,264.60 L101.08,264.60 L101.69,264.60 L102.31,264.60 L102.93,264.60 L103.55,264.60 L104.16,264.60 L104.78,264.60 L105.40,264.60 L106.01,264.60 L106.63,264.60 L107.25,264.60 L107.87,264.60 L108.48,264.60 L109.10,264.60 L109.72,264.60 L110.33,264.60 L110.95,264.60 L111.57,264.60 L112.19,264.60 L112.80,264.60 L113.42,264.60 L114.04,264.60 L114.66,264.60 L115.27,264.60 L115.89,264.60 L116.51,264.60 L117.12,264.59 L117.74,264.59 L118.36,264.59 L118.98,264.59 L119.59,264.59 L120.21,264.58 L120.83,264.58 L121.45,264.58 L122.06,264.57 L122.68,264.56 L123.30,264.55 L123.91,264.54 L124.53,264.53 L125.15,264.52 L125.77,264.50 L126.38,264.48 L127.00,264.46 L127.62,264.43 L128.24,264.40 L128.85,264.36 L129.47,264.32 L130.09,264.27 L130.70,264.21 L131.32,264.14 L131.94,264.06 L132.56,263.97 L133.17,263.87 L133.79,263.75 L134.41,263.62 L135.02,263.47 L135.64,263.30 L136.26,263.11 L136.88,262.90 L137.49,262.66 L138.11,262.39 L138.73,262.09 L139.35,261.76 L139.96,261.40 L140.58,261.00 L141.20,260.55 L141.81,260.07 L142.43,259.54 L143.05,258.96 L143.67,258.33 L144.28,257.65 L144.90,256.91 L145.52,256.12 L146.14,255.27 L146.75,254.35 L147.37,253.37 L147.99,252.33 L148.60,251.22 L149.22,250.04 L149.84,248.80 L150.46,247.48 L151.07,246.10 L151.69,244.65 L152.31,243.14 L152.93,241.55 L153.54,239.90 L154.16,238.19 L154.78,236.42 L155.39,234.59 L156.01,232.70 L156.63,230.76 L157.25,228.77 L157.86,226.73 L158.48,224.66 L159.10,222.55 L159.71,220.40 L160.33,218.23 L160.95,216.04 L161.57,213.83 L162.18,211.61 L162.80,209.38 L163.42,207.15 L164.04,204.92 L164.65,202.71 L165.27,200.51 L165.89,198.33 L166.50,196.17 L167.12,194.04 L167.74,191.94 L168.36,189.87 L168.97,187.84 L169.59,185.86 L170.21,183.91 L170.83,182.02 L171.44,180.17 L172.06,178.37 L172.68,176.62 L173.29,174.92 L173.91,173.28 L174.53,171.69 L175.15,170.15 L175.76,168.67 L176.38,167.25 L177.00,165.88 L177.62,164.56 L178.23,163.30 L178.85,162.09 L179.47,160.93 L180.08,159.82 L180.70,158.76 L181.32,157.75 L181.94,156.79 L182.55,155.88 L183.17,155.01 L183.79,154.19 L184.40,153.40 L185.02,152.66 L185.64,151.96 L186.26,151.30 L186.87,150.67 L187.49,150.08 L188.11,149.52 L188.73,149.00 L189.34,148.50 L189.96,148.04 L190.58,147.60 L191.19,147.19 L191.81,146.80 L192.43,146.44 L193.05,146.11 L193.66,145.79 L194.28,145.49 L194.90,145.22 L195.52,144.96 L196.13,144.72 L196.75,144.49 L197.37,144.28 L197.98,144.09 L198.60,143.91 L199.22,143.74 L199.84,143.58 L200.45,143.44 L201.07,143.30 L201.69,143.18 L202.31,143.06 L202.92,142.95 L203.54,142.85 L204.16,142.76 L204.77,142.67 L205.39,142.60 L206.01,142.52 L206.63,142.45 L207.24,142.39 L207.86,142.34 L208.48,142.28 L209.09,142.23 L209.71,142.19 L210.33,142.15 L210.95,142.11 L211.56,142.08 L212.18,142.04 L212.80,142.01 L213.42,141.99 L214.03,141.96 L214.65,141.94" stroke="#7a7a7a" stroke-width="1.7"/>
<path d="M91.20,264.60 L91.82,264.60 L92.43,264.60 L93.05,264.60 L93.67,264.60 L94.29,264.60 L94.90,264.60 L95.52,264.60 L96.14,264.60 L96.76,264.60 L97.37,264.60 L97.99,264.60 L98.61,264.60 L99.22,264.60 L99.84,264.60 L100.46,264.60 L101.08,264.60 L101.69,264.60 L102.31,264.60 L102.93,264.60 L103.55,264.60 L104.16,264.60 L104.78,264.60 L105.40,264.60 L106.01,264.60 L106.63,264.60 L107.25,264.60 L107.87,264.60 L108.48,264.60 L109.10,264.60 L109.72,264.60 L110.33,264.60 L110.95,264.60 L111.57,264.60 L112.19,264.60 L112.80,264.60 L113.42,264.60 L114.04,264.60 L114.66,264.60 L115.27,264.60 L115.89,264.60 L116.51,264.60 L117.12,264.60 L117.74,264.60 L118.36,264.60 L118.98,264.60 L119.59,264.60 L120.21,264.60 L120.83,264.60 L121.45,264.60 L122.06,264.60 L122.68,264.60 L123.30,264.59 L123.91,264.59 L124.53,264.59 L125.15,264.59 L125.77,264.59 L126.38,264.59 L127.00,264.59 L127.62,264.58 L128.24,264.58 L128.85,264.58 L129.47,264.58 L130.09,264.57 L130.70,264.57 L131.32,264.56 L131.94,264.56 L132.56,264.55 L133.17,264.55 L133.79,264.54 L134.41,264.53 L135.02,264.52 L135.64,264.51 L136.26,264.50 L136.88,264.48 L137.49,264.47 L138.11,264.45 L138.73,264.43 L139.35,264.41 L139.96,264.38 L140.58,264.36 L141.20,264.32 L141.81,264.29 L142.43,264.25 L143.05,264.21 L143.67,264.16 L144.28,264.11 L144.90,264.06 L145.52,263.99 L146.14,263.92 L146.75,263.85 L147.37,263.77 L147.99,263.67 L148.60,263.57 L149.22,263.46 L149.84,263.35 L150.46,263.22 L151.07,263.07 L151.69,262.92 L152.31,262.75 L152.93,262.57 L153.54,262.38 L154.16,262.16 L154.78,261.94 L155.39,261.69 L156.01,261.42 L156.63,261.14 L157.25,260.83 L157.86,260.51 L158.48,260.16 L159.10,259.78 L159.71,259.38 L160.33,258.95 L160.95,258.50 L161.57,258.02 L162.18,257.51 L162.80,256.97 L163.42,256.39 L164.04,255.79 L164.65,255.15 L165.27,254.48 L165.89,253.77 L166.50,253.02 L167.12,252.24 L167.74,251.43 L168.36,250.57 L168.97,249.68 L169.59,248.75 L170.21,247.77 L170.83,246.77 L171.44,245.72 L172.06,244.63 L172.68,243.50 L173.29,242.34 L173.91,241.13 L174.53,239.89 L175.15,238.62 L175.76,237.30 L176.38,235.95 L177.00,234.57 L177.62,233.15 L178.23,231.70 L178.85,230.22 L179.47,228.71 L180.08,227.18 L180.70,225.61 L181.32,224.03 L181.94,222.42 L182.55,220.79 L183.17,219.15 L183.79,217.49 L184.40,215.81 L185.02,214.13 L185.64,212.43 L186.26,210.73 L186.87,209.02 L187.49,207.32 L188.11,205.61 L188.73,203.91 L189.34,202.21 L189.96,200.52 L190.58,198.84 L191.19,197.17 L191.81,195.52 L192.43,193.88 L193.05,192.26 L193.66,190.66 L194.28,189.08 L194.90,187.52 L195.52,185.99 L196.13,184.48 L196.75,182.99 L197.37,181.54 L197.98,180.11 L198.60,178.71 L199.22,177.34 L199.84,176.01 L200.45,174.70 L201.07,173.42 L201.69,172.18 L202.31,170.97 L202.92,169.79 L203.54,168.65 L204.16,167.53 L204.77,166.45 L205.39,165.40 L206.01,164.39 L206.63,163.40 L207.24,162.45 L207.86,161.53 L208.48,160.64 L209.09,159.78 L209.71,158.95 L210.33,158.15 L210.95,157.38 L211.56,156.64 L212.18,155.93 L212.80,155.25 L213.42,154.59 L214.03,153.96 L214.65,153.35 L215.27,152.77 L215.88,152.21 L216.50,151.68 L217.12,151.17 L217.74,150.68 L218.35,150.21 L218.97,149.76 L219.59,149.34 L220.21,148.93 L220.82,148.54 L221.44,148.17 L222.06,147.82 L222.67,147.49 L223.29,147.17 L223.91,146.86 L224.53,146.57 L225.14,146.30 L225.76,146.04 L226.38,145.79 L227.00,145.56 L227.61,145.34 L228.23,145.12 L228.85,144.92 L229.46,144.73 L230.08,144.56 L230.70,144.39 L231.32,144.23 L231.93,144.07 L232.55,143.93 L233.17,143.79 L233.78,143.67 L234.40,143.55 L235.02,143.43 L235.64,143.33 L236.25,143.22 L236.87,143.13 L237.49,143.04 L238.11,142.95 L238.72,142.87 L239.34,142.80 L239.96,142.73 L240.57,142.66 L241.19,142.60 L241.81,142.54 L242.43,142.49 L243.04,142.44 L243.66,142.39 L244.28,142.34 L244.90,142.30 L245.51,142.26 L246.13,142.22 L246.75,142.19 L247.36,142.15 L247.98,142.12 L248.60,142.10 L249.22,142.07 L249.83,142.04 L250.45,142.02 L251.07,142.00 L251.69,141.98 L252.30,141.96 L252.92,141.94 L253.54,141.92 L254.15,141.91 L254.77,141.89 L255.39,141.88 L256.01,141.87 L256.62,141.86 L257.24,141.84 L257.86,141.83 L258.47,141.82 L259.09,141.82 L259.71,141.81 L260.33,141.80 L260.94,141.79 L261.56,141.79 L262.18,141.78 L262.80,141.77 L263.41,141.77 L264.03,141.76 L264.65,141.76 L265.26,141.75 L265.88,141.75 L266.50,141.75 L267.12,141.74 L267.73,141.74 L268.35,141.74 L268.97,141.73 L269.59,141.73 L270.20,141.73 L270.82,141.73 L271.44,141.72 L272.05,141.72 L272.67,141.72 L273.29,141.72 L273.91,141.72 L274.52,141.72 L275.14,141.72 L275.76,141.71 L276.38,141.71 L276.99,141.71 L277.61,141.71 L278.23,141.71 L278.84,141.71 L279.46,141.71 L280.08,141.71 L280.70,141.71 L281.31,141.71 L281.93,141.71 L282.55,141.71 L283.16,141.71 L283.78,141.70 L284.40,141.70 L285.02,141.70 L285.63,141.70 L286.25,141.70 L286.87,141.70 L287.49,141.70 L288.10,141.70 L288.72,141.70 L289.34,141.70 L289.95,141.70 L290.57,141.70 L291.19,141.70 L291.81,141.70 L292.42,141.70 L293.04,141.70 L293.66,141.70 L294.28,141.70 L294.89,141.70 L295.51,141.70 L296.13,141.70 L296.74,141.70 L297.36,141.70 L297.98,141.70 L298.60,141.70 L299.21,141.70 L299.83,141.70 L300.45,141.70 L301.07,141.70 L301.68,141.70 L302.30,141.70 L302.92,141.70 L303.53,141.70 L304.15,141.70 L304.77,141.70 L305.39,141.70 L306.00,141.70 L306.62,141.70 L307.24,141.70 L307.85,141.70 L308.47,141.70 L309.09,141.70 L309.71,141.70 L310.32,141.70 L310.94,141.70 L311.56,141.70 L312.18,141.70 L312.79,141.70 L313.41,141.70 L314.03,141.70 L314.64,141.70 L315.26,141.70 L315.88,141.70 L316.50,141.70 L317.11,141.70 L317.73,141.70 L318.35,141.70 L318.97,141.70 L319.58,141.70 L320.20,141.70 L320.82,141.70 L321.43,141.70 L322.05,141.70 L322.67,141.70 L323.29,141.70 L323.90,141.70 L324.52,141.70 L325.14,141.70 L325.76,141.70 L326.37,141.70 L326.99,141.70 L327.61,141.70 L328.22,141.70 L328.84,141.70 L329.46,141.70 L330.08,141.70 L330.69,141.70 L331.31,141.70 L331.93,141.70 L332.54,141.70 L333.16,141.70 L333.78,141.70 L334.40,141.70 L335.01,141.70 L335.63,141.70 L336.25,141.70 L336.87,141.70 L337.48,141.70 L338.10,141.70" stroke="#7a7a7a" stroke-width="1.7"/>
<path d="M91.20,264.60 L91.82,264.60 L92.43,264.60 L93.05,264.60 L93.67,264.60 L94.29,264.60 L94.90,264.60 L95.52,264.60 L96.14,264.60 L96.76,264.60 L97.37,264.60 L97.99,264.60 L98.61,264.60 L99.22,264.60 L99.84,264.60 L100.46,264.60 L101.08,264.60 L101.69,264.60 L102.31,264.60 L102.93,264.60 L103.55,264.60 L104.16,264.60 L104.78,264.60 L105.40,264.60 L106.01,264.60 L106.63,264.60 L107.25,264.60 L107.87,264.60 L108.48,264.60 L109.10,264.60 L109.72,264.60 L110.33,264.60 L110.95,264.60 L111.57,264.60 L112.19,264.60 L112.80,264.60 L113.42,264.59 L114.04,264.59 L114.66,264.59 L115.27,264.59 L115.89,264.59 L116.51,264.59 L117.12,264.59 L117.74,264.59 L118.36,264.59 L118.98,264.59 L119.59,264.58 L120.21,264.58 L120.83,264.58 L121.45,264.58 L122.06,264.58 L122.68,264.57 L123.30,264.57 L123.91,264.57 L124.53,264.56 L125.15,264.56 L125.77,264.55 L126.38,264.55 L127.00,264.54 L127.62,264.54 L128.24,264.53 L128.85,264.53 L129.47,264.52 L130.09,264.51 L130.70,264.50 L131.32,264.49 L131.94,264.48 L132.56,264.47 L133.17,264.45 L133.79,264.44 L134.41,264.42 L135.02,264.41 L135.64,264.39 L136.26,264.37 L136.88,264.35 L137.49,264.33 L138.11,264.30 L138.73,264.28 L139.35,264.25 L139.96,264.21 L140.58,264.18 L141.20,264.14 L141.81,264.11 L142.43,264.06 L143.05,264.02 L143.67,263.97 L144.28,263.92 L144.90,263.86 L145.52,263.80 L146.14,263.74 L146.75,263.67 L147.37,263.59 L147.99,263.51 L148.60,263.43 L149.22,263.34 L149.84,263.24 L150.46,263.14 L151.07,263.03 L151.69,262.92 L152.31,262.79 L152.93,262.66 L153.54,262.52 L154.16,262.38 L154.78,262.22 L155.39,262.05 L156.01,261.88 L156.63,261.69 L157.25,261.50 L157.86,261.29 L158.48,261.08 L159.10,260.85 L159.71,260.61 L160.33,260.35 L160.95,260.09 L161.57,259.81 L162.18,259.51 L162.80,259.20 L163.42,258.88 L164.04,258.54 L164.65,258.19 L165.27,257.82 L165.89,257.43 L166.50,257.02 L167.12,256.60 L167.74,256.16 L168.36,255.71 L168.97,255.23 L169.59,254.73 L170.21,254.22 L170.83,253.68 L171.44,253.13 L172.06,252.55 L172.68,251.96 L173.29,251.34 L173.91,250.70 L174.53,250.04 L175.15,249.36 L175.76,248.66 L176.38,247.94 L177.00,247.19 L177.62,246.42 L178.23,245.63 L178.85,244.82 L179.47,243.98 L180.08,243.13 L180.70,242.25 L181.32,241.35 L181.94,240.43 L182.55,239.49 L183.17,238.52 L183.79,237.54 L184.40,236.54 L185.02,235.51 L185.64,234.47 L186.26,233.40 L186.87,232.32 L187.49,231.22 L188.11,230.11 L188.73,228.97 L189.34,227.82 L189.96,226.66 L190.58,225.48 L191.19,224.28 L191.81,223.08 L192.43,221.86 L193.05,220.62 L193.66,219.38 L194.28,218.13 L194.90,216.87 L195.52,215.60 L196.13,214.32 L196.75,213.04 L197.37,211.75 L197.98,210.46 L198.60,209.16 L199.22,207.87 L199.84,206.57 L200.45,205.27 L201.07,203.97 L201.69,202.67 L202.31,201.38 L202.92,200.09 L203.54,198.81 L204.16,197.53 L204.77,196.25 L205.39,194.99 L206.01,193.73 L206.63,192.48 L207.24,191.25 L207.86,190.02 L208.48,188.80 L209.09,187.60 L209.71,186.41 L210.33,185.23 L210.95,184.07 L211.56,182.92 L212.18,181.78 L212.80,180.67 L213.42,179.56 L214.03,178.48 L214.65,177.41 L215.27,176.36 L215.88,175.33 L216.50,174.31 L217.12,173.31 L217.74,172.34 L218.35,171.38 L218.97,170.44 L219.59,169.52 L220.21,168.61 L220.82,167.73 L221.44,166.87 L222.06,166.02 L222.67,165.20 L223.29,164.39 L223.91,163.61 L224.53,162.84 L225.14,162.09 L225.76,161.37 L226.38,160.66 L227.00,159.97 L227.61,159.30 L228.23,158.64 L228.85,158.01 L229.46,157.39 L230.08,156.79 L230.70,156.21 L231.32,155.65 L231.93,155.10 L232.55,154.58 L233.17,154.06 L233.78,153.57 L234.40,153.09 L235.02,152.62 L235.64,152.17 L236.25,151.74 L236.87,151.32 L237.49,150.91 L238.11,150.52 L238.72,150.14 L239.34,149.78 L239.96,149.43 L240.57,149.09 L241.19,148.77 L241.81,148.45 L242.43,148.15 L243.04,147.86 L243.66,147.58 L244.28,147.32 L244.90,147.06 L245.51,146.81 L246.13,146.57 L246.75,146.35 L247.36,146.13 L247.98,145.92 L248.60,145.72 L249.22,145.52 L249.83,145.34 L250.45,145.16 L251.07,144.99 L251.69,144.83 L252.30,144.68 L252.92,144.53 L253.54,144.39 L254.15,144.25 L254.77,144.13 L255.39,144.00 L256.01,143.89 L256.62,143.77 L257.24,143.67 L257.86,143.56 L258.47,143.47 L259.09,143.38 L259.71,143.29 L260.33,143.20 L260.94,143.12 L261.56,143.05 L262.18,142.98 L262.80,142.91 L263.41,142.84 L264.03,142.78 L264.65,142.72 L265.26,142.66 L265.88,142.61 L266.50,142.56 L267.12,142.51 L267.73,142.47 L268.35,142.42 L268.97,142.38 L269.59,142.34 L270.20,142.31 L270.82,142.27 L271.44,142.24 L272.05,142.21 L272.67,142.18 L273.29,142.15 L273.91,142.13 L274.52,142.10 L275.14,142.08 L275.76,142.06 L276.38,142.03 L276.99,142.01 L277.61,142.00 L278.23,141.98 L278.84,141.96 L279.46,141.95 L280.08,141.93 L280.70,141.92 L281.31,141.90 L281.93,141.89 L282.55,141.88 L283.16,141.87 L283.78,141.86 L284.40,141.85 L285.02,141.84 L285.63,141.83 L286.25,141.82 L286.87,141.81 L287.49,141.81 L288.10,141.80 L288.72,141.79 L289.34,141.79 L289.95,141.78 L290.57,141.78 L291.19,141.77 L291.81,141.77 L292.42,141.76 L293.04,141.76 L293.66,141.76 L294.28,141.75 L294.89,141.75 L295.51,141.75 L296.13,141.74 L296.74,141.74 L297.36,141.74 L297.98,141.73 L298.60,141.73 L299.21,141.73 L299.83,141.73 L300.45,141.73 L301.07,141.72 L301.68,141.72 L302.30,141.72 L302.92,141.72 L303.53,141.72 L304.15,141.72 L304.77,141.72 L305.39,141.71 L306.00,141.71 L306.62,141.71 L307.24,141.71 L307.85,141.71 L308.47,141.71 L309.09,141.71 L309.71,141.71 L310.32,141.71 L310.94,141.71 L311.56,141.71 L312.18,141.71 L312.79,141.71 L313.41,141.71 L314.03,141.71 L314.64,141.70 L315.26,141.70 L315.88,141.70 L316.50,141.70 L317.11,141.70 L317.73,141.70 L318.35,141.70 L318.97,141.70 L319.58,141.70 L320.20,141.70 L320.82,141.70 L321.43,141.70 L322.05,141.70 L322.67,141.70 L323.29,141.70 L323.90,141.70 L324.52,141.70 L325.14,141.70 L325.76,141.70 L326.37,141.70 L326.99,141.70 L327.61,141.70 L328.22,141.70 L328.84,141.70 L329.46,141.70 L330.08,141.70 L330.69,141.70 L331.31,141.70 L331.93,141.70 L332.54,141.70 L333.16,141.70 L333.78,141.70 L334.40,141.70 L335.01,141.70 L335.63,141.70 L336.25,141.70 L336.87,141.70 L337.48,141.70 L338.10,141.70" stroke="#7a7a7a" stroke-width="1.7"/>
<path d="M91.20,264.60 L91.82,264.60 L92.43,264.60 L93.05,264.60 L93.67,264.60 L94.29,264.60 L94.90,264.60 L95.52,264.60 L96.14,264.60 L96.76,264.60 L97.37,264.60 L97.99,264.60 L98.61,264.60 L99.22,264.60 L99.84,264.60 L100.46,264.60 L101.08,264.60 L101.69,264.60 L102.31,264.60 L102.93,264.60 L103.55,264.60 L104.16,264.60 L104.78,264.60 L105.40,264.60 L106.01,264.60 L106.63,264.60 L107.25,264.60 L107.87,264.60 L108.48,264.60 L109.10,264.60 L109.72,264.60 L110.33,264.60 L110.95,264.60 L111.57,264.60 L112.19,264.60 L112.80,264.60 L113.42,264.60 L114.04,264.60 L114.66,264.60 L115.27,264.59 L115.89,264.59 L116.51,264.59 L117.12,264.59 L117.74,264.59 L118.36,264.59 L118.98,264.59 L119.59,264.59 L120.21,264.59 L120.83,264.59 L121.45,264.58 L122.06,264.58 L122.68,264.58 L123.30,264.58 L123.91,264.58 L124.53,264.57 L125.15,264.57 L125.77,264.57 L126.38,264.56 L127.00,264.56 L127.62,264.56 L128.24,264.55 L128.85,264.55 L129.47,264.54 L130.09,264.53 L130.70,264.53 L131.32,264.52 L131.94,264.51 L132.56,264.50 L133.17,264.49 L133.79,264.48 L134.41,264.47 L135.02,264.46 L135.64,264.44 L136.26,264.43 L136.88,264.41 L137.49,264.40 L138.11,264.38 L138.73,264.36 L139.35,264.33 L139.96,264.31 L140.58,264.29 L141.20,264.26 L141.81,264.23 L142.43,264.20 L143.05,264.16 L143.67,264.12 L144.28,264.08 L144.90,264.04 L145.52,264.00 L146.14,263.95 L146.75,263.89 L147.37,263.84 L147.99,263.78 L148.60,263.71 L149.22,263.65 L149.84,263.57 L150.46,263.49 L151.07,263.41 L151.69,263.32 L152.31,263.23 L152.93,263.13 L153.54,263.02 L154.16,262.91 L154.78,262.79 L155.39,262.67 L156.01,262.53 L156.63,262.39 L157.25,262.24 L157.86,262.08 L158.48,261.92 L159.10,261.74 L159.71,261.56 L160.33,261.36 L160.95,261.16 L161.57,260.94 L162.18,260.72 L162.80,260.48 L163.42,260.23 L164.04,259.97 L164.65,259.70 L165.27,259.42 L165.89,259.12 L166.50,258.81 L167.12,258.48 L167.74,258.14 L168.36,257.79 L168.97,257.42 L169.59,257.03 L170.21,256.63 L170.83,256.22 L171.44,255.79 L172.06,255.34 L172.68,254.88 L173.29,254.39 L173.91,253.90 L174.53,253.38 L175.15,252.85 L175.76,252.29 L176.38,251.72 L177.00,251.14 L177.62,250.53 L178.23,249.90 L178.85,249.26 L179.47,248.60 L180.08,247.92 L180.70,247.22 L181.32,246.50 L181.94,245.76 L182.55,245.00 L183.17,244.23 L183.79,243.43 L184.40,242.62 L185.02,241.79 L185.64,240.94 L186.26,240.07 L186.87,239.19 L187.49,238.28 L188.11,237.36 L188.73,236.42 L189.34,235.47 L189.96,234.50 L190.58,233.51 L191.19,232.51 L191.81,231.49 L192.43,230.46 L193.05,229.42 L193.66,228.36 L194.28,227.28 L194.90,226.20 L195.52,225.10 L196.13,223.99 L196.75,222.88 L197.37,221.75 L197.98,220.61 L198.60,219.46 L199.22,218.31 L199.84,217.15 L200.45,215.98 L201.07,214.80 L201.69,213.62 L202.31,212.44 L202.92,211.25 L203.54,210.06 L204.16,208.87 L204.77,207.68 L205.39,206.49 L206.01,205.29 L206.63,204.10 L207.24,202.91 L207.86,201.72 L208.48,200.54 L209.09,199.36 L209.71,198.18 L210.33,197.01 L210.95,195.85 L211.56,194.69 L212.18,193.54 L212.80,192.40 L213.42,191.27 L214.03,190.14 L214.65,189.03 L215.27,187.93 L215.88,186.83 L216.50,185.75 L217.12,184.68 L217.74,183.62 L218.35,182.58 L218.97,181.54 L219.59,180.52 L220.21,179.52 L220.82,178.53 L221.44,177.55 L222.06,176.59 L222.67,175.64 L223.29,174.71 L223.91,173.79 L224.53,172.89 L225.14,172.00 L225.76,171.13 L226.38,170.28 L227.00,169.44 L227.61,168.61 L228.23,167.81 L228.85,167.02 L229.46,166.24 L230.08,165.49 L230.70,164.74 L231.32,164.02 L231.93,163.31 L232.55,162.62 L233.17,161.94 L233.78,161.28 L234.40,160.63 L235.02,160.00 L235.64,159.39 L236.25,158.79 L236.87,158.21 L237.49,157.64 L238.11,157.09 L238.72,156.55 L239.34,156.03 L239.96,155.52 L240.57,155.02 L241.19,154.54 L241.81,154.08 L242.43,153.62 L243.04,153.18 L243.66,152.75 L244.28,152.34 L244.90,151.94 L245.51,151.55 L246.13,151.17 L246.75,150.81 L247.36,150.45 L247.98,150.11 L248.60,149.78 L249.22,149.46 L249.83,149.15 L250.45,148.85 L251.07,148.56 L251.69,148.29 L252.30,148.02 L252.92,147.76 L253.54,147.51 L254.15,147.26 L254.77,147.03 L255.39,146.81 L256.01,146.59 L256.62,146.38 L257.24,146.18 L257.86,145.99 L258.47,145.80 L259.09,145.62 L259.71,145.45 L260.33,145.28 L260.94,145.13 L261.56,144.97 L262.18,144.83 L262.80,144.69 L263.41,144.55 L264.03,144.42 L264.65,144.30 L265.26,144.18 L265.88,144.06 L266.50,143.95 L267.12,143.85 L267.73,143.75 L268.35,143.65 L268.97,143.56 L269.59,143.47 L270.20,143.39 L270.82,143.30 L271.44,143.23 L272.05,143.15 L272.67,143.08 L273.29,143.01 L273.91,142.95 L274.52,142.89 L275.14,142.83 L275.76,142.77 L276.38,142.72 L276.99,142.67 L277.61,142.62 L278.23,142.57 L278.84,142.53 L279.46,142.49 L280.08,142.45 L280.70,142.41 L281.31,142.37 L281.93,142.34 L282.55,142.30 L283.16,142.27 L283.78,142.24 L284.40,142.21 L285.02,142.19 L285.63,142.16 L286.25,142.14 L286.87,142.11 L287.49,142.09 L288.10,142.07 L288.72,142.05 L289.34,142.03 L289.95,142.01 L290.57,142.00 L291.19,141.98 L291.81,141.96 L292.42,141.95 L293.04,141.94 L293.66,141.92 L294.28,141.91 L294.89,141.90 L295.51,141.89 L296.13,141.88 L296.74,141.87 L297.36,141.86 L297.98,141.85 L298.60,141.84 L299.21,141.83 L299.83,141.82 L300.45,141.82 L301.07,141.81 L301.68,141.80 L302.30,141.80 L302.92,141.79 L303.53,141.79 L304.15,141.78 L304.77,141.78 L305.39,141.77 L306.00,141.77 L306.62,141.76 L307.24,141.76 L307.85,141.76 L308.47,141.75 L309.09,141.75 L309.71,141.75 L310.32,141.74 L310.94,141.74 L311.56,141.74 L312.18,141.74 L312.79,141.73 L313.41,141.73 L314.03,141.73 L314.64,141.73 L315.26,141.73 L315.88,141.72 L316.50,141.72 L317.11,141.72 L317.73,141.72 L318.35,141.72 L318.97,141.72 L319.58,141.72 L320.20,141.71 L320.82,141.71 L321.43,141.71 L322.05,141.71 L322.67,141.71 L323.29,141.71 L323.90,141.71 L324.52,141.71 L325.14,141.71 L325.76,141.71 L326.37,141.71 L326.99,141.71 L327.61,141.71 L328.22,141.70 L328.84,141.70 L329.46,141.70 L330.08,141.70 L330.69,141.70 L331.31,141.70 L331.93,141.70 L332.54,141.70 L333.16,141.70 L333.78,141.70 L334.40,141.70 L335.01,141.70 L335.63,141.70 L336.25,141.70 L336.87,141.70 L337.48,141.70 L338.10,141.70" stroke="#7a7a7a" stroke-width="1.7"/>
<path d="M91.20,264.60 L91.82,264.60 L92.43,264.60 L93.05,264.60 L93.67,264.60 L94.29,264.60 L94.90,264.60 L95.52,264.60 L96.14,264.60 L96.76,264.60 L97.37,264.60 L97.99,264.60 L98.61,264.60 L99.22,264.60 L99.84,264.60 L100.46,264.60 L101.08,264.60 L101.69,264.60 L102.31,264.60 L102.93,264.60 L103.55,264.60 L104.16,264.60 L104.78,264.60 L105.40,264.60 L106.01,264.60 L106.63,264.60 L107.25,264.60 L107.87,264.60 L108.48,264.60 L109.10,264.60 L109.72,264.60 L110.33,264.60 L110.95,264.60 L111.57,264.60 L112.19,264.60 L112.80,264.60 L113.42,264.60 L114.04,264.60 L114.66,264.60 L115.27,264.60 L115.89,264.60 L116.51,264.59 L117.12,264.59 L117.74,264.58 L118.36,264.57 L118.98,264.56 L119.59,264.54 L120.21,264.52 L120.83,264.49 L121.45,264.45 L122.06,264.40 L122.68,264.34 L123.30,264.26 L123.91,264.17 L124.53,264.05 L125.15,263.91 L125.77,263.74 L126.38,263.53 L127.00,263.29 L127.62,263.02 L128.24,262.70 L128.85,262.33 L129.47,261.91 L130.09,261.44 L130.70,260.91 L131.32,260.31 L131.94,259.65 L132.56,258.93 L133.17,258.13 L133.79,257.26 L134.41,256.31 L135.02,255.29 L135.64,254.19 L136.26,253.01 L136.88,251.75 L137.49,250.42 L138.11,249.01 L138.73,247.52 L139.35,245.96 L139.96,244.32 L140.58,242.62 L141.20,240.85 L141.81,239.02 L142.43,237.13 L143.05,235.18 L143.67,233.18 L144.28,231.14 L144.90,229.05 L145.52,226.93 L146.14,224.78 L146.75,222.60 L147.37,220.40 L147.99,218.18 L148.60,215.95 L149.22,213.72 L149.84,211.48 L150.46,209.25 L151.07,207.02 L151.69,204.81 L152.31,202.61 L152.93,200.44 L153.54,198.29 L154.16,196.17 L154.78,194.08 L155.39,192.02 L156.01,190.00 L156.63,188.02 L157.25,186.08 L157.86,184.19 L158.48,182.34 L159.10,180.54 L159.71,178.79 L160.33,177.09 L160.95,175.44 L161.57,173.84 L162.18,172.29 L162.80,170.79 L163.42,169.35 L164.04,167.95 L164.65,166.61 L165.27,165.32 L165.89,164.08 L166.50,162.89 L167.12,161.75 L167.74,160.65 L168.36,159.60 L168.97,158.60 L169.59,157.65 L170.21,156.74 L170.83,155.87 L171.44,155.04 L172.06,154.25 L172.68,153.51 L173.29,152.80 L173.91,152.12 L174.53,151.48 L175.15,150.88 L175.76,150.30 L176.38,149.76 L177.00,149.25 L177.62,148.77 L178.23,148.31 L178.85,147.88 L179.47,147.47 L180.08,147.09 L180.70,146.73 L181.32,146.39 L181.94,146.08 L182.55,145.78 L183.17,145.50 L183.79,145.24 L184.40,144.99 L185.02,144.76 L185.64,144.55 L186.26,144.34 L186.87,144.16 L187.49,143.98 L188.11,143.82 L188.73,143.66 L189.34,143.52 L189.96,143.39 L190.58,143.26 L191.19,143.15 L191.81,143.04 L192.43,142.94 L193.05,142.84 L193.66,142.76 L194.28,142.68 L194.90,142.60 L195.52,142.53 L196.13,142.47 L196.75,142.41 L197.37,142.35 L197.98,142.30 L198.60,142.26 L199.22,142.21 L199.84,142.17 L200.45,142.13 L201.07,142.10 L201.69,142.07 L202.31,142.04 L202.92,142.01 L203.54,141.99 L204.16,141.96 L204.77,141.94 L205.39,141.92 L206.01,141.90 L206.63,141.89 L207.24,141.87 L207.86,141.86 L208.48,141.84 L209.09,141.83 L209.71,141.82 L210.33,141.81 L210.95,141.80 L211.56,141.79 L212.18,141.78 L212.80,141.78 L213.42,141.77 L214.03,141.76 L214.65,141.76" stroke="#000" stroke-width="1.9"/>
<path d="M91.20,264.60 L91.82,264.60 L92.43,264.60 L93.05,264.60 L93.67,264.60 L94.29,264.60 L94.90,264.60 L95.52,264.60 L96.14,264.60 L96.76,264.60 L97.37,264.60 L97.99,264.60 L98.61,264.60 L99.22,264.60 L99.84,264.60 L100.46,264.60 L101.08,264.60 L101.69,264.60 L102.31,264.60 L102.93,264.60 L103.55,264.60 L104.16,264.60 L104.78,264.60 L105.40,264.60 L106.01,264.60 L106.63,264.60 L107.25,264.60 L107.87,264.60 L108.48,264.60 L109.10,264.60 L109.72,264.60 L110.33,264.60 L110.95,264.60 L111.57,264.60 L112.19,264.60 L112.80,264.60 L113.42,264.60 L114.04,264.60 L114.66,264.60 L115.27,264.60 L115.89,264.60 L116.51,264.60 L117.12,264.60 L117.74,264.60 L118.36,264.60 L118.98,264.60 L119.59,264.60 L120.21,264.60 L120.83,264.60 L121.45,264.60 L122.06,264.60 L122.68,264.60 L123.30,264.60 L123.91,264.60 L124.53,264.60 L125.15,264.59 L125.77,264.59 L126.38,264.59 L127.00,264.59 L127.62,264.59 L128.24,264.59 L128.85,264.59 L129.47,264.59 L130.09,264.58 L130.70,264.58 L131.32,264.58 L131.94,264.58 L132.56,264.57 L133.17,264.57 L133.79,264.57 L134.41,264.56 L135.02,264.56 L135.64,264.55 L136.26,264.55 L136.88,264.54 L137.49,264.53 L138.11,264.52 L138.73,264.51 L139.35,264.50 L139.96,264.49 L140.58,264.48 L141.20,264.47 L141.81,264.45 L142.43,264.44 L143.05,264.42 L143.67,264.40 L144.28,264.38 L144.90,264.36 L145.52,264.33 L146.14,264.31 L146.75,264.28 L147.37,264.25 L147.99,264.21 L148.60,264.18 L149.22,264.14 L149.84,264.09 L150.46,264.05 L151.07,264.00 L151.69,263.94 L152.31,263.89 L152.93,263.82 L153.54,263.76 L154.16,263.68 L154.78,263.61 L155.39,263.53 L156.01,263.44 L156.63,263.34 L157.25,263.24 L157.86,263.14 L158.48,263.02 L159.10,262.90 L159.71,262.77 L160.33,262.64 L160.95,262.49 L161.57,262.34 L162.18,262.18 L162.80,262.01 L163.42,261.82 L164.04,261.63 L164.65,261.43 L165.27,261.22 L165.89,261.00 L166.50,260.76 L167.12,260.52 L167.74,260.26 L168.36,259.99 L168.97,259.70 L169.59,259.41 L170.21,259.09 L170.83,258.77 L171.44,258.43 L172.06,258.08 L172.68,257.71 L173.29,257.32 L173.91,256.93 L174.53,256.51 L175.15,256.08 L175.76,255.63 L176.38,255.17 L177.00,254.69 L177.62,254.19 L178.23,253.68 L178.85,253.14 L179.47,252.59 L180.08,252.03 L180.70,251.44 L181.32,250.84 L181.94,250.22 L182.55,249.58 L183.17,248.93 L183.79,248.25 L184.40,247.56 L185.02,246.85 L185.64,246.13 L186.26,245.38 L186.87,244.62 L187.49,243.84 L188.11,243.05 L188.73,242.23 L189.34,241.40 L189.96,240.56 L190.58,239.70 L191.19,238.82 L191.81,237.92 L192.43,237.02 L193.05,236.09 L193.66,235.16 L194.28,234.20 L194.90,233.24 L195.52,232.26 L196.13,231.27 L196.75,230.27 L197.37,229.26 L197.98,228.23 L198.60,227.20 L199.22,226.15 L199.84,225.10 L200.45,224.03 L201.07,222.96 L201.69,221.88 L202.31,220.80 L202.92,219.71 L203.54,218.61 L204.16,217.51 L204.77,216.40 L205.39,215.30 L206.01,214.18 L206.63,213.07 L207.24,211.95 L207.86,210.84 L208.48,209.72 L209.09,208.60 L209.71,207.49 L210.33,206.37 L210.95,205.26 L211.56,204.15 L212.18,203.05 L212.80,201.95 L213.42,200.85 L214.03,199.76 L214.65,198.67 L215.27,197.59 L215.88,196.52 L216.50,195.45 L217.12,194.40 L217.74,193.35 L218.35,192.30 L218.97,191.27 L219.59,190.25 L220.21,189.23 L220.82,188.23 L221.44,187.24 L222.06,186.25 L222.67,185.28 L223.29,184.32 L223.91,183.37 L224.53,182.44 L225.14,181.51 L225.76,180.60 L226.38,179.70 L227.00,178.81 L227.61,177.93 L228.23,177.07 L228.85,176.22 L229.46,175.38 L230.08,174.56 L230.70,173.75 L231.32,172.95 L231.93,172.17 L232.55,171.40 L233.17,170.64 L233.78,169.89 L234.40,169.16 L235.02,168.45 L235.64,167.74 L236.25,167.05 L236.87,166.38 L237.49,165.71 L238.11,165.06 L238.72,164.42 L239.34,163.80 L239.96,163.19 L240.57,162.59 L241.19,162.00 L241.81,161.43 L242.43,160.87 L243.04,160.32 L243.66,159.78 L244.28,159.26 L244.90,158.75 L245.51,158.25 L246.13,157.76 L246.75,157.28 L247.36,156.82 L247.98,156.36 L248.60,155.92 L249.22,155.49 L249.83,155.07 L250.45,154.66 L251.07,154.26 L251.69,153.87 L252.30,153.49 L252.92,153.12 L253.54,152.76 L254.15,152.41 L254.77,152.07 L255.39,151.73 L256.01,151.41 L256.62,151.10 L257.24,150.79 L257.86,150.49 L258.47,150.20 L259.09,149.92 L259.71,149.65 L260.33,149.39 L260.94,149.13 L261.56,148.88 L262.18,148.64 L262.80,148.40 L263.41,148.17 L264.03,147.95 L264.65,147.74 L265.26,147.53 L265.88,147.33 L266.50,147.13 L267.12,146.94 L267.73,146.76 L268.35,146.58 L268.97,146.41 L269.59,146.24 L270.20,146.08 L270.82,145.92 L271.44,145.77 L272.05,145.62 L272.67,145.48 L273.29,145.34 L273.91,145.21 L274.52,145.08 L275.14,144.96 L275.76,144.84 L276.38,144.72 L276.99,144.61 L277.61,144.50 L278.23,144.39 L278.84,144.29 L279.46,144.19 L280.08,144.10 L280.70,144.01 L281.31,143.92 L281.93,143.83 L282.55,143.75 L283.16,143.67 L283.78,143.60 L284.40,143.52 L285.02,143.45 L285.63,143.38 L286.25,143.32 L286.87,143.25 L287.49,143.19 L288.10,143.13 L288.72,143.07 L289.34,143.02 L289.95,142.96 L290.57,142.91 L291.19,142.86 L291.81,142.82 L292.42,142.77 L293.04,142.73 L293.66,142.68 L294.28,142.64 L294.89,142.60 L295.51,142.57 L296.13,142.53 L296.74,142.49 L297.36,142.46 L297.98,142.43 L298.60,142.40 L299.21,142.37 L299.83,142.34 L300.45,142.31 L301.07,142.28 L301.68,142.26 L302.30,142.23 L302.92,142.21 L303.53,142.19 L304.15,142.16 L304.77,142.14 L305.39,142.12 L306.00,142.10 L306.62,142.09 L307.24,142.07 L307.85,142.05 L308.47,142.03 L309.09,142.02 L309.71,142.00 L310.32,141.99 L310.94,141.97 L311.56,141.96 L312.18,141.95 L312.79,141.94 L313.41,141.92 L314.03,141.91 L314.64,141.90 L315.26,141.89 L315.88,141.88 L316.50,141.87 L317.11,141.86 L317.73,141.85 L318.35,141.84 L318.97,141.84 L319.58,141.83 L320.20,141.82 L320.82,141.81 L321.43,141.81 L322.05,141.80 L322.67,141.79 L323.29,141.79 L323.90,141.78 L324.52,141.78 L325.14,141.77 L325.76,141.77 L326.37,141.76 L326.99,141.76 L327.61,141.75 L328.22,141.75 L328.84,141.74 L329.46,141.74 L330.08,141.74 L330.69,141.73 L331.31,141.73 L331.93,141.73 L332.54,141.72 L333.16,141.72 L333.78,141.72 L334.40,141.71 L335.01,141.71 L335.63,141.71 L336.25,141.71 L336.87,141.70 L337.48,141.70 L338.10,141.70" stroke="#000" stroke-width="1.9"/>
</g>
<g stroke="#484848" stroke-width="1.0" fill="none">
<rect x="91.2" y="5.5" width="246.90000000000003" height="123.0"/>
<rect x="91.2" y="141.7" width="246.90000000000003" height="122.90000000000003"/>
</g>
<g stroke="#505050" stroke-width="0.8">
<line x1="106.63" y1="5.50" x2="106.63" y2="7.20"/>
<line x1="106.63" y1="128.50" x2="106.63" y2="126.80"/>
<line x1="122.06" y1="5.50" x2="122.06" y2="7.20"/>
<line x1="122.06" y1="128.50" x2="122.06" y2="126.80"/>
<line x1="137.49" y1="5.50" x2="137.49" y2="7.20"/>
<line x1="137.49" y1="128.50" x2="137.49" y2="126.80"/>
<line x1="152.93" y1="5.50" x2="152.93" y2="8.70"/>
<line x1="152.93" y1="128.50" x2="152.93" y2="125.30"/>
<line x1="168.36" y1="5.50" x2="168.36" y2="7.20"/>
<line x1="168.36" y1="128.50" x2="168.36" y2="126.80"/>
<line x1="183.79" y1="5.50" x2="183.79" y2="7.20"/>
<line x1="183.79" y1="128.50" x2="183.79" y2="126.80"/>
<line x1="199.22" y1="5.50" x2="199.22" y2="7.20"/>
<line x1="199.22" y1="128.50" x2="199.22" y2="126.80"/>
<line x1="214.65" y1="5.50" x2="214.65" y2="8.70"/>
<line x1="214.65" y1="128.50" x2="214.65" y2="125.30"/>
<line x1="230.08" y1="5.50" x2="230.08" y2="7.20"/>
<line x1="230.08" y1="128.50" x2="230.08" y2="126.80"/>
<line x1="245.51" y1="5.50" x2="245.51" y2="7.20"/>
<line x1="245.51" y1="128.50" x2="245.51" y2="126.80"/>
<line x1="260.94" y1="5.50" x2="260.94" y2="7.20"/>
<line x1="260.94" y1="128.50" x2="260.94" y2="126.80"/>
<line x1="276.38" y1="5.50" x2="276.38" y2="8.70"/>
<line x1="276.38" y1="128.50" x2="276.38" y2="125.30"/>
<line x1="291.81" y1="5.50" x2="291.81" y2="7.20"/>
<line x1="291.81" y1="128.50" x2="291.81" y2="126.80"/>
<line x1="307.24" y1="5.50" x2="307.24" y2="7.20"/>
<line x1="307.24" y1="128.50" x2="307.24" y2="126.80"/>
<line x1="322.67" y1="5.50" x2="322.67" y2="7.20"/>
<line x1="322.67" y1="128.50" x2="322.67" y2="126.80"/>
<line x1="91.20" y1="122.35" x2="92.90" y2="122.35"/>
<line x1="338.10" y1="122.35" x2="336.40" y2="122.35"/>
<line x1="91.20" y1="116.20" x2="92.90" y2="116.20"/>
<line x1="338.10" y1="116.20" x2="336.40" y2="116.20"/>
<line x1="91.20" y1="110.05" x2="92.90" y2="110.05"/>
<line x1="338.10" y1="110.05" x2="336.40" y2="110.05"/>
<line x1="91.20" y1="103.90" x2="92.90" y2="103.90"/>
<line x1="338.10" y1="103.90" x2="336.40" y2="103.90"/>
<line x1="91.20" y1="97.75" x2="94.40" y2="97.75"/>
<line x1="338.10" y1="97.75" x2="334.90" y2="97.75"/>
<line x1="91.20" y1="91.60" x2="92.90" y2="91.60"/>
<line x1="338.10" y1="91.60" x2="336.40" y2="91.60"/>
<line x1="91.20" y1="85.45" x2="92.90" y2="85.45"/>
<line x1="338.10" y1="85.45" x2="336.40" y2="85.45"/>
<line x1="91.20" y1="79.30" x2="92.90" y2="79.30"/>
<line x1="338.10" y1="79.30" x2="336.40" y2="79.30"/>
<line x1="91.20" y1="73.15" x2="92.90" y2="73.15"/>
<line x1="338.10" y1="73.15" x2="336.40" y2="73.15"/>
<line x1="91.20" y1="67.00" x2="94.40" y2="67.00"/>
<line x1="338.10" y1="67.00" x2="334.90" y2="67.00"/>
<line x1="91.20" y1="60.85" x2="92.90" y2="60.85"/>
<line x1="338.10" y1="60.85" x2="336.40" y2="60.85"/>
<line x1="91.20" y1="54.70" x2="92.90" y2="54.70"/>
<line x1="338.10" y1="54.70" x2="336.40" y2="54.70"/>
<line x1="91.20" y1="48.55" x2="92.90" y2="48.55"/>
<line x1="338.10" y1="48.55" x2="336.40" y2="48.55"/>
<line x1="91.20" y1="42.40" x2="92.90" y2="42.40"/>
<line x1="338.10" y1="42.40" x2="336.40" y2="42.40"/>
<line x1="91.20" y1="36.25" x2="94.40" y2="36.25"/>
<line x1="338.10" y1="36.25" x2="334.90" y2="36.25"/>
<line x1="91.20" y1="30.10" x2="92.90" y2="30.10"/>
<line x1="338.10" y1="30.10" x2="336.40" y2="30.10"/>
<line x1="91.20" y1="23.95" x2="92.90" y2="23.95"/>
<line x1="338.10" y1="23.95" x2="336.40" y2="23.95"/>
<line x1="91.20" y1="17.80" x2="92.90" y2="17.80"/>
<line x1="338.10" y1="17.80" x2="336.40" y2="17.80"/>
<line x1="91.20" y1="11.65" x2="92.90" y2="11.65"/>
<line x1="338.10" y1="11.65" x2="336.40" y2="11.65"/>
<line x1="106.63" y1="141.70" x2="106.63" y2="143.40"/>
<line x1="106.63" y1="264.60" x2="106.63" y2="262.90"/>
<line x1="122.06" y1="141.70" x2="122.06" y2="143.40"/>
<line x1="122.06" y1="264.60" x2="122.06" y2="262.90"/>
<line x1="137.49" y1="141.70" x2="137.49" y2="143.40"/>
<line x1="137.49" y1="264.60" x2="137.49" y2="262.90"/>
<line x1="152.93" y1="141.70" x2="152.93" y2="144.90"/>
<line x1="152.93" y1="264.60" x2="152.93" y2="261.40"/>
<line x1="168.36" y1="141.70" x2="168.36" y2="143.40"/>
<line x1="168.36" y1="264.60" x2="168.36" y2="262.90"/>
<line x1="183.79" y1="141.70" x2="183.79" y2="143.40"/>
<line x1="183.79" y1="264.60" x2="183.79" y2="262.90"/>
<line x1="199.22" y1="141.70" x2="199.22" y2="143.40"/>
<line x1="199.22" y1="264.60" x2="199.22" y2="262.90"/>
<line x1="214.65" y1="141.70" x2="214.65" y2="144.90"/>
<line x1="214.65" y1="264.60" x2="214.65" y2="261.40"/>
<line x1="230.08" y1="141.70" x2="230.08" y2="143.40"/>
<line x1="230.08" y1="264.60" x2="230.08" y2="262.90"/>
<line x1="245.51" y1="141.70" x2="245.51" y2="143.40"/>
<line x1="245.51" y1="264.60" x2="245.51" y2="262.90"/>
<line x1="260.94" y1="141.70" x2="260.94" y2="143.40"/>
<line x1="260.94" y1="264.60" x2="260.94" y2="262.90"/>
<line x1="276.38" y1="141.70" x2="276.38" y2="144.90"/>
<line x1="276.38" y1="264.60" x2="276.38" y2="261.40"/>
<line x1="291.81" y1="141.70" x2="291.81" y2="143.40"/>
<line x1="291.81" y1="264.60" x2="291.81" y2="262.90"/>
<line x1="307.24" y1="141.70" x2="307.24" y2="143.40"/>
<line x1="307.24" y1="264.60" x2="307.24" y2="262.90"/>
<line x1="322.67" y1="141.70" x2="322.67" y2="143.40"/>
<line x1="322.67" y1="264.60" x2="322.67" y2="262.90"/>
<line x1="91.20" y1="258.46" x2="92.90" y2="258.46"/>
<line x1="338.10" y1="258.46" x2="336.40" y2="258.46"/>
<line x1="91.20" y1="252.31" x2="92.90" y2="252.31"/>
<line x1="338.10" y1="252.31" x2="336.40" y2="252.31"/>
<line x1="91.20" y1="246.17" x2="92.90" y2="246.17"/>
<line x1="338.10" y1="246.17" x2="336.40" y2="246.17"/>
<line x1="91.20" y1="240.02" x2="92.90" y2="240.02"/>
<line x1="338.10" y1="240.02" x2="336.40" y2="240.02"/>
<line x1="91.20" y1="233.88" x2="94.40" y2="233.88"/>
<line x1="338.10" y1="233.88" x2="334.90" y2="233.88"/>
<line x1="91.20" y1="227.73" x2="92.90" y2="227.73"/>
<line x1="338.10" y1="227.73" x2="336.40" y2="227.73"/>
<line x1="91.20" y1="221.59" x2="92.90" y2="221.59"/>
<line x1="338.10" y1="221.59" x2="336.40" y2="221.59"/>
<line x1="91.20" y1="215.44" x2="92.90" y2="215.44"/>
<line x1="338.10" y1="215.44" x2="336.40" y2="215.44"/>
<line x1="91.20" y1="209.30" x2="92.90" y2="209.30"/>
<line x1="338.10" y1="209.30" x2="336.40" y2="209.30"/>
<line x1="91.20" y1="203.15" x2="94.40" y2="203.15"/>
<line x1="338.10" y1="203.15" x2="334.90" y2="203.15"/>
<line x1="91.20" y1="197.00" x2="92.90" y2="197.00"/>
<line x1="338.10" y1="197.00" x2="336.40" y2="197.00"/>
<line x1="91.20" y1="190.86" x2="92.90" y2="190.86"/>
<line x1="338.10" y1="190.86" x2="336.40" y2="190.86"/>
<line x1="91.20" y1="184.72" x2="92.90" y2="184.72"/>
<line x1="338.10" y1="184.72" x2="336.40" y2="184.72"/>
<line x1="91.20" y1="178.57" x2="92.90" y2="178.57"/>
<line x1="338.10" y1="178.57" x2="336.40" y2="178.57"/>
<line x1="91.20" y1="172.43" x2="94.40" y2="172.43"/>
<line x1="338.10" y1="172.43" x2="334.90" y2="172.43"/>
<line x1="91.20" y1="166.28" x2="92.90" y2="166.28"/>
<line x1="338.10" y1="166.28" x2="336.40" y2="166.28"/>
<line x1="91.20" y1="160.13" x2="92.90" y2="160.13"/>
<line x1="338.10" y1="160.13" x2="336.40" y2="160.13"/>
<line x1="91.20" y1="153.99" x2="92.90" y2="153.99"/>
<line x1="338.10" y1="153.99" x2="336.40" y2="153.99"/>
<line x1="91.20" y1="147.84" x2="92.90" y2="147.84"/>
<line x1="338.10" y1="147.84" x2="336.40" y2="147.84"/>
</g>
<g>
<line x1="115.10" y1="30.80" x2="132.86" y2="45.60" stroke="#222" stroke-width="1.4"/>
<polygon points="136.70,48.80 130.94,46.34 133.24,43.58" fill="#222"/>
<line x1="294.00" y1="28.40" x2="175.60" y2="24.37" stroke="#7c7c7c" stroke-width="1.35"/>
<polygon points="170.60,24.20 176.66,22.61 176.54,26.20" fill="#7c7c7c"/>
<line x1="294.00" y1="37.30" x2="201.18" y2="46.32" stroke="#7c7c7c" stroke-width="1.35"/>
<polygon points="196.20,46.80 202.00,44.43 202.35,48.01" fill="#7c7c7c"/>
<line x1="294.00" y1="47.00" x2="213.19" y2="64.16" stroke="#7c7c7c" stroke-width="1.35"/>
<polygon points="208.30,65.20 213.80,62.19 214.54,65.71" fill="#7c7c7c"/>
<line x1="294.40" y1="57.60" x2="250.72" y2="104.15" stroke="#7c7c7c" stroke-width="1.35"/>
<polygon points="247.30,107.80 250.09,102.19 252.72,104.66" fill="#7c7c7c"/>
<line x1="286.10" y1="105.80" x2="268.23" y2="113.11" stroke="#222" stroke-width="1.4"/>
<polygon points="263.60,115.00 268.47,111.06 269.83,114.40" fill="#222"/>
<line x1="136.10" y1="161.00" x2="170.92" y2="163.97" stroke="#7c7c7c" stroke-width="1.35"/>
<polygon points="175.90,164.40 169.77,165.68 170.07,162.10" fill="#7c7c7c"/>
<line x1="136.10" y1="170.60" x2="189.39" y2="180.58" stroke="#7c7c7c" stroke-width="1.35"/>
<polygon points="194.30,181.50 188.07,182.16 188.73,178.63" fill="#7c7c7c"/>
<line x1="136.10" y1="180.60" x2="199.24" y2="195.73" stroke="#7c7c7c" stroke-width="1.35"/>
<polygon points="204.10,196.90 197.85,197.25 198.68,193.75" fill="#7c7c7c"/>
<line x1="136.10" y1="190.70" x2="196.32" y2="213.43" stroke="#7c7c7c" stroke-width="1.35"/>
<polygon points="201.00,215.20 194.75,214.76 196.02,211.40" fill="#7c7c7c"/>
<line x1="116.30" y1="231.00" x2="130.77" y2="243.18" stroke="#222" stroke-width="1.4"/>
<polygon points="134.60,246.40 128.85,243.91 131.17,241.16" fill="#222"/>
<line x1="216.30" y1="236.80" x2="200.88" y2="238.24" stroke="#222" stroke-width="1.4"/>
<polygon points="195.90,238.70 201.71,236.35 202.04,239.94" fill="#222"/>
</g>
<g stroke="#555" stroke-width="0.9">
<line x1="283.6" y1="21.7" x2="328.8" y2="21.7"/>
<line x1="104.4" y1="154.7" x2="149.7" y2="154.7"/>
</g>
<g>
<text x="86.40" y="131.90" font-size="8.3" text-anchor="end" fill="#3c3c3c" >0</text>
<text x="86.40" y="101.15" font-size="8.3" text-anchor="end" fill="#3c3c3c" >50</text>
<text x="86.40" y="70.40" font-size="8.3" text-anchor="end" fill="#3c3c3c" >100</text>
<text x="86.40" y="39.65" font-size="8.3" text-anchor="end" fill="#3c3c3c" >150</text>
<text x="86.40" y="8.90" font-size="8.3" text-anchor="end" fill="#3c3c3c" >200</text>
<text x="86.40" y="268.00" font-size="8.3" text-anchor="end" fill="#3c3c3c" >0.00</text>
<text x="86.40" y="237.28" font-size="8.3" text-anchor="end" fill="#3c3c3c" >0.25</text>
<text x="86.40" y="206.55" font-size="8.3" text-anchor="end" fill="#3c3c3c" >0.50</text>
<text x="86.40" y="175.83" font-size="8.3" text-anchor="end" fill="#3c3c3c" >0.75</text>
<text x="86.40" y="145.10" font-size="8.3" text-anchor="end" fill="#3c3c3c" >1.00</text>
<text x="91.20" y="276.00" font-size="8.3" text-anchor="middle" fill="#3c3c3c" >0.00</text>
<text x="152.93" y="276.00" font-size="8.3" text-anchor="middle" fill="#3c3c3c" >0.01</text>
<text x="214.65" y="276.00" font-size="8.3" text-anchor="middle" fill="#3c3c3c" >0.02</text>
<text x="276.38" y="276.00" font-size="8.3" text-anchor="middle" fill="#3c3c3c" >0.03</text>
<text x="338.10" y="276.00" font-size="8.3" text-anchor="middle" fill="#3c3c3c" >0.04</text>
<text x="1.50" y="67.40" font-size="12.5" text-anchor="start" fill="#444" >probability</text>
<text x="1.50" y="81.70" font-size="12.5" text-anchor="start" fill="#444" >density</text>
<text x="1.50" y="0.00" font-size="8.3" text-anchor="start" fill="#3c3c3c" ></text>
<text x="137.00" y="293.20" font-size="13.75" text-anchor="start" fill="#444" >relative Malthusian fitness</text>
<text x="95.20" y="18.60" font-size="8.3" text-anchor="start" fill="#3c3c3c" >mutational</text>
<text x="94.90" y="28.60" font-size="8.3" text-anchor="start" fill="#3c3c3c" >distribution</text>
<text x="283.60" y="20.20" font-size="8.3" text-anchor="start" fill="#3c3c3c" >initial fitness</text>
<text x="296.60" y="30.80" font-size="8.3" text-anchor="start" fill="#3c3c3c" >0.01</text>
<text x="296.60" y="40.60" font-size="8.3" text-anchor="start" fill="#3c3c3c" >0.02</text>
<text x="296.60" y="50.60" font-size="8.3" text-anchor="start" fill="#3c3c3c" >0.03</text>
<text x="296.60" y="60.50" font-size="8.3" text-anchor="start" fill="#3c3c3c" >0.04</text>
<text x="287.90" y="102.60" font-size="8.3" text-anchor="start" fill="#3c3c3c" >equilibrium</text>
<text x="287.90" y="112.60" font-size="8.3" text-anchor="start" fill="#3c3c3c" >distribution</text>
<text x="104.40" y="153.10" font-size="8.3" text-anchor="start" fill="#3c3c3c" >initial fitness</text>
<text x="118.00" y="163.90" font-size="8.3" text-anchor="start" fill="#3c3c3c" >0.01</text>
<text x="118.00" y="173.70" font-size="8.3" text-anchor="start" fill="#3c3c3c" >0.02</text>
<text x="118.00" y="183.50" font-size="8.3" text-anchor="start" fill="#3c3c3c" >0.03</text>
<text x="118.00" y="193.60" font-size="8.3" text-anchor="start" fill="#3c3c3c" >0.04</text>
<text x="96.80" y="217.00" font-size="8.3" text-anchor="start" fill="#3c3c3c" >mutational</text>
<text x="97.00" y="227.60" font-size="8.3" text-anchor="start" fill="#3c3c3c" >distribution</text>
<text x="217.70" y="235.30" font-size="8.3" text-anchor="start" fill="#3c3c3c" >equilibrium</text>
<text x="217.70" y="244.90" font-size="8.3" text-anchor="start" fill="#3c3c3c" >distribution</text>
</g>
<g font-size="12.5" fill="#444">
<text x="1.5" y="201.0">cumulative</text>
<text x="1.5" y="215.3">probability</text>
</g>
</svg>
</body></html>
